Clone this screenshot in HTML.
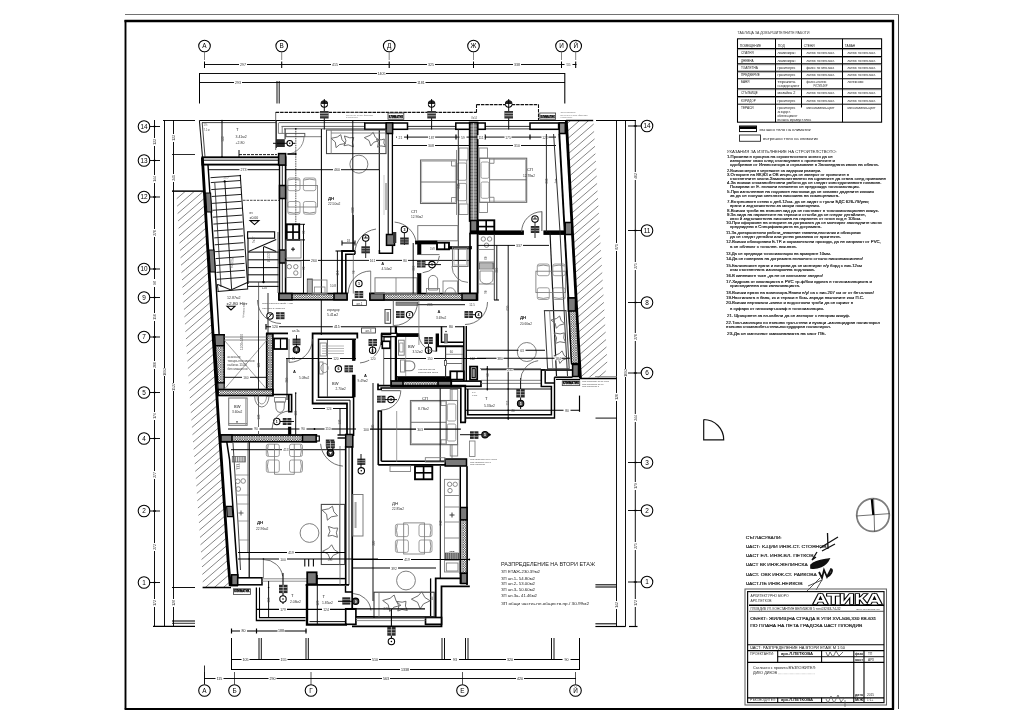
<!DOCTYPE html><html><head><meta charset="utf-8"><title>План</title><style>
html,body{margin:0;padding:0;background:#fff}
svg{display:block;will-change:transform}
text{font-family:"Liberation Sans",sans-serif}
</style></head><body>
<svg width="1024" height="724" viewBox="0 0 1024 724">
<defs><pattern id="xh" width="2.4" height="2.4" patternUnits="userSpaceOnUse"><rect width="2.4" height="2.4" fill="#fff"/><path d="M0 0L2.4 2.4M2.4 0L0 2.4" stroke="#000" stroke-width="0.45"/></pattern><pattern id="xd" width="1.6" height="1.6" patternUnits="userSpaceOnUse"><rect width="1.6" height="1.6" fill="#fff"/><path d="M0 0L1.6 1.6M1.6 0L0 1.6" stroke="#000" stroke-width="0.42"/></pattern><clipPath id="hc1"><path d="M176.2 191.3 L204.37 191.3 L209.6 280 L218.4 420 L221.4 460 L228.1 560 L230.3 587 L203 587 L201.58 560 L194.48 460 L191.32 420 L181.96 280 Z"/></clipPath><clipPath id="hc2"><path d="M566.3 120.8 L593.5 120.8 L607.5 365 L604 377.6 L580.41 377.6 Z"/></clipPath></defs>
<rect x="0" y="0" width="1024" height="724" fill="#fff"/>
<line x1="125" y1="14.5" x2="899" y2="14.5" stroke="#555" stroke-width="0.83"/>
<line x1="898.5" y1="15" x2="898.5" y2="709" stroke="#333" stroke-width="0.94"/>
<line x1="124.5" y1="21" x2="894" y2="21" stroke="#000" stroke-width="2.36"/>
<line x1="125.5" y1="20" x2="125.5" y2="709.5" stroke="#000" stroke-width="1.89"/>
<line x1="893" y1="20" x2="893" y2="709.5" stroke="#000" stroke-width="2.36"/>
<line x1="124.7" y1="709" x2="894" y2="709" stroke="#000" stroke-width="1.89"/>
<circle cx="204.5" cy="46" r="5.8" fill="#fff" stroke="#000" stroke-width="1.06"/>
<text x="204.5" y="48.2" font-size="6.4" text-anchor="middle">А</text>
<line x1="204.5" y1="51.5" x2="204.5" y2="60" stroke="#555" stroke-width="0.71"/>
<line x1="204.5" y1="61.5" x2="204.5" y2="68" stroke="#000" stroke-width="1.06"/>
<circle cx="281.7" cy="46" r="5.8" fill="#fff" stroke="#000" stroke-width="1.06"/>
<text x="281.7" y="48.2" font-size="6.4" text-anchor="middle">В</text>
<line x1="281.7" y1="51.5" x2="281.7" y2="60" stroke="#555" stroke-width="0.71"/>
<line x1="281.7" y1="61.5" x2="281.7" y2="68" stroke="#000" stroke-width="1.06"/>
<circle cx="389.2" cy="46" r="5.8" fill="#fff" stroke="#000" stroke-width="1.06"/>
<text x="389.2" y="48.2" font-size="6.4" text-anchor="middle">Д</text>
<line x1="389.2" y1="51.5" x2="389.2" y2="60" stroke="#555" stroke-width="0.71"/>
<line x1="389.2" y1="61.5" x2="389.2" y2="68" stroke="#000" stroke-width="1.06"/>
<circle cx="473.5" cy="46" r="5.8" fill="#fff" stroke="#000" stroke-width="1.06"/>
<text x="473.5" y="48.2" font-size="6.4" text-anchor="middle">Ж</text>
<line x1="473.5" y1="51.5" x2="473.5" y2="60" stroke="#555" stroke-width="0.71"/>
<line x1="473.5" y1="61.5" x2="473.5" y2="68" stroke="#000" stroke-width="1.06"/>
<circle cx="561.5" cy="46" r="5.8" fill="#fff" stroke="#000" stroke-width="1.06"/>
<text x="561.5" y="48.2" font-size="6.4" text-anchor="middle">И</text>
<line x1="561.5" y1="51.5" x2="561.5" y2="60" stroke="#555" stroke-width="0.71"/>
<line x1="561.5" y1="61.5" x2="561.5" y2="68" stroke="#000" stroke-width="1.06"/>
<circle cx="575.7" cy="46" r="5.8" fill="#fff" stroke="#000" stroke-width="1.06"/>
<text x="575.7" y="48.2" font-size="6.4" text-anchor="middle">Й</text>
<line x1="575.7" y1="51.5" x2="575.7" y2="60" stroke="#555" stroke-width="0.71"/>
<line x1="575.7" y1="61.5" x2="575.7" y2="68" stroke="#000" stroke-width="1.06"/>
<circle cx="204.5" cy="690.5" r="5.8" fill="#fff" stroke="#000" stroke-width="1.06"/>
<text x="204.5" y="692.7" font-size="6.4" text-anchor="middle">А</text>
<line x1="204.5" y1="672" x2="204.5" y2="685" stroke="#333" stroke-width="0.83"/>
<circle cx="234.5" cy="690.5" r="5.8" fill="#fff" stroke="#000" stroke-width="1.06"/>
<text x="234.5" y="692.7" font-size="6.4" text-anchor="middle">Б</text>
<line x1="234.5" y1="672" x2="234.5" y2="685" stroke="#333" stroke-width="0.83"/>
<circle cx="311" cy="690.5" r="5.8" fill="#fff" stroke="#000" stroke-width="1.06"/>
<text x="311" y="692.7" font-size="6.4" text-anchor="middle">Г</text>
<line x1="311" y1="672" x2="311" y2="685" stroke="#333" stroke-width="0.83"/>
<circle cx="462.5" cy="690.5" r="5.8" fill="#fff" stroke="#000" stroke-width="1.06"/>
<text x="462.5" y="692.7" font-size="6.4" text-anchor="middle">Е</text>
<line x1="462.5" y1="672" x2="462.5" y2="685" stroke="#333" stroke-width="0.83"/>
<circle cx="575.5" cy="690.5" r="5.8" fill="#fff" stroke="#000" stroke-width="1.06"/>
<text x="575.5" y="692.7" font-size="6.4" text-anchor="middle">Й</text>
<line x1="575.5" y1="672" x2="575.5" y2="685" stroke="#333" stroke-width="0.83"/>
<circle cx="144" cy="126.5" r="5.8" fill="#fff" stroke="#000" stroke-width="1.06"/>
<text x="144" y="128.7" font-size="6.4" text-anchor="middle">14</text>
<line x1="149.5" y1="126.5" x2="160" y2="126.5" stroke="#000" stroke-width="0.94"/>
<circle cx="144" cy="160.5" r="5.8" fill="#fff" stroke="#000" stroke-width="1.06"/>
<text x="144" y="162.7" font-size="6.4" text-anchor="middle">13</text>
<line x1="149.5" y1="160.5" x2="160" y2="160.5" stroke="#000" stroke-width="0.94"/>
<circle cx="144" cy="197" r="5.8" fill="#fff" stroke="#000" stroke-width="1.06"/>
<text x="144" y="199.2" font-size="6.4" text-anchor="middle">12</text>
<line x1="149.5" y1="197" x2="160" y2="197" stroke="#000" stroke-width="0.94"/>
<circle cx="144" cy="269" r="5.8" fill="#fff" stroke="#000" stroke-width="1.06"/>
<text x="144" y="271.2" font-size="6.4" text-anchor="middle">10</text>
<line x1="149.5" y1="269" x2="160" y2="269" stroke="#000" stroke-width="0.94"/>
<circle cx="144" cy="297.5" r="5.8" fill="#fff" stroke="#000" stroke-width="1.06"/>
<text x="144" y="299.7" font-size="6.4" text-anchor="middle">9</text>
<line x1="149.5" y1="297.5" x2="160" y2="297.5" stroke="#000" stroke-width="0.94"/>
<circle cx="144" cy="337" r="5.8" fill="#fff" stroke="#000" stroke-width="1.06"/>
<text x="144" y="339.2" font-size="6.4" text-anchor="middle">7</text>
<line x1="149.5" y1="337" x2="160" y2="337" stroke="#000" stroke-width="0.94"/>
<circle cx="144" cy="392.5" r="5.8" fill="#fff" stroke="#000" stroke-width="1.06"/>
<text x="144" y="394.7" font-size="6.4" text-anchor="middle">5</text>
<line x1="149.5" y1="392.5" x2="160" y2="392.5" stroke="#000" stroke-width="0.94"/>
<circle cx="144" cy="438.5" r="5.8" fill="#fff" stroke="#000" stroke-width="1.06"/>
<text x="144" y="440.7" font-size="6.4" text-anchor="middle">4</text>
<line x1="149.5" y1="438.5" x2="160" y2="438.5" stroke="#000" stroke-width="0.94"/>
<circle cx="144" cy="511" r="5.8" fill="#fff" stroke="#000" stroke-width="1.06"/>
<text x="144" y="513.2" font-size="6.4" text-anchor="middle">2</text>
<line x1="149.5" y1="511" x2="160" y2="511" stroke="#000" stroke-width="0.94"/>
<circle cx="144" cy="582.5" r="5.8" fill="#fff" stroke="#000" stroke-width="1.06"/>
<text x="144" y="584.7" font-size="6.4" text-anchor="middle">1</text>
<line x1="149.5" y1="582.5" x2="160" y2="582.5" stroke="#000" stroke-width="0.94"/>
<circle cx="647" cy="126" r="5.8" fill="#fff" stroke="#000" stroke-width="1.06"/>
<text x="647" y="128.2" font-size="6.4" text-anchor="middle">14</text>
<line x1="628" y1="126" x2="641.5" y2="126" stroke="#000" stroke-width="0.94"/>
<circle cx="647" cy="230.5" r="5.8" fill="#fff" stroke="#000" stroke-width="1.06"/>
<text x="647" y="232.7" font-size="6.4" text-anchor="middle">11</text>
<line x1="628" y1="230.5" x2="641.5" y2="230.5" stroke="#000" stroke-width="0.94"/>
<circle cx="647" cy="302.5" r="5.8" fill="#fff" stroke="#000" stroke-width="1.06"/>
<text x="647" y="304.7" font-size="6.4" text-anchor="middle">8</text>
<line x1="628" y1="302.5" x2="641.5" y2="302.5" stroke="#000" stroke-width="0.94"/>
<circle cx="647" cy="373" r="5.8" fill="#fff" stroke="#000" stroke-width="1.06"/>
<text x="647" y="375.2" font-size="6.4" text-anchor="middle">6</text>
<line x1="628" y1="373" x2="641.5" y2="373" stroke="#000" stroke-width="0.94"/>
<circle cx="647" cy="462.5" r="5.8" fill="#fff" stroke="#000" stroke-width="1.06"/>
<text x="647" y="464.7" font-size="6.4" text-anchor="middle">3</text>
<line x1="628" y1="462.5" x2="641.5" y2="462.5" stroke="#000" stroke-width="0.94"/>
<circle cx="647" cy="510.5" r="5.8" fill="#fff" stroke="#000" stroke-width="1.06"/>
<text x="647" y="512.7" font-size="6.4" text-anchor="middle">2</text>
<line x1="628" y1="510.5" x2="641.5" y2="510.5" stroke="#000" stroke-width="0.94"/>
<circle cx="647" cy="582" r="5.8" fill="#fff" stroke="#000" stroke-width="1.06"/>
<text x="647" y="584.2" font-size="6.4" text-anchor="middle">1</text>
<line x1="628" y1="582" x2="641.5" y2="582" stroke="#000" stroke-width="0.94"/>
<line x1="204" y1="64.5" x2="576.5" y2="64.5" stroke="#000" stroke-width="0.94"/>
<rect x="239" y="62.5" width="8" height="4" fill="#fff" stroke="none" stroke-width="0"/>
<text x="243" y="66" font-size="3.6" text-anchor="middle" fill="#333">297</text>
<rect x="331" y="62.5" width="8" height="4" fill="#fff" stroke="none" stroke-width="0"/>
<text x="335" y="66" font-size="3.6" text-anchor="middle" fill="#333">415</text>
<rect x="427" y="62.5" width="8" height="4" fill="#fff" stroke="none" stroke-width="0"/>
<text x="431" y="66" font-size="3.6" text-anchor="middle" fill="#333">325</text>
<rect x="513" y="62.5" width="8" height="4" fill="#fff" stroke="none" stroke-width="0"/>
<text x="517" y="66" font-size="3.6" text-anchor="middle" fill="#333">338</text>
<rect x="564.5" y="62.5" width="8" height="4" fill="#fff" stroke="none" stroke-width="0"/>
<text x="568.5" y="66" font-size="3.6" text-anchor="middle" fill="#333">55</text>
<line x1="199.5" y1="73.5" x2="565" y2="73.5" stroke="#000" stroke-width="0.94"/>
<line x1="199.5" y1="73" x2="199.5" y2="103.5" stroke="#000" stroke-width="1.06"/>
<line x1="564.8" y1="73" x2="564.8" y2="103.5" stroke="#000" stroke-width="1.06"/>
<rect x="377" y="71.5" width="9" height="4" fill="#fff" stroke="none" stroke-width="0"/>
<text x="381.5" y="75" font-size="3.6" text-anchor="middle" fill="#333">1405</text>
<line x1="199.5" y1="82.5" x2="565" y2="82.5" stroke="#000" stroke-width="0.94"/>
<rect x="234" y="80.5" width="8" height="4" fill="#fff" stroke="none" stroke-width="0"/>
<text x="238" y="84" font-size="3.6" text-anchor="middle" fill="#333">293</text>
<rect x="416.5" y="80.5" width="9" height="4" fill="#fff" stroke="none" stroke-width="0"/>
<text x="421" y="84" font-size="3.6" text-anchor="middle" fill="#333">1181</text>
<line x1="277" y1="81" x2="277" y2="103.5" stroke="#000" stroke-width="0.94"/>
<line x1="279.2" y1="81" x2="279.2" y2="103.5" stroke="#000" stroke-width="0.94"/>
<line x1="231" y1="631" x2="306.5" y2="631" stroke="#000" stroke-width="1.06"/>
<line x1="231.5" y1="628.5" x2="231.5" y2="633.5" stroke="#000" stroke-width="1.18"/>
<line x1="256.5" y1="628.5" x2="256.5" y2="633.5" stroke="#000" stroke-width="1.18"/>
<line x1="306" y1="628.5" x2="306" y2="633.5" stroke="#000" stroke-width="1.18"/>
<rect x="240" y="629" width="7" height="4" fill="#fff" stroke="none" stroke-width="0"/>
<text x="243.5" y="632.4" font-size="3.6" text-anchor="middle" fill="#222">80</text>
<rect x="277.5" y="629" width="7" height="4" fill="#fff" stroke="none" stroke-width="0"/>
<text x="281" y="632.4" font-size="3.6" text-anchor="middle" fill="#222">188</text>
<line x1="231.5" y1="638" x2="231.5" y2="669.5" stroke="#000" stroke-width="1.06"/>
<line x1="259" y1="638" x2="259" y2="660" stroke="#000" stroke-width="0.94"/>
<line x1="261.3" y1="638" x2="261.3" y2="660" stroke="#000" stroke-width="0.94"/>
<line x1="306" y1="638" x2="306" y2="660" stroke="#000" stroke-width="0.94"/>
<line x1="308.3" y1="638" x2="308.3" y2="660" stroke="#000" stroke-width="0.94"/>
<line x1="442" y1="638" x2="442" y2="660" stroke="#000" stroke-width="0.94"/>
<line x1="444.5" y1="638" x2="444.5" y2="660" stroke="#000" stroke-width="0.94"/>
<line x1="465.5" y1="638" x2="465.5" y2="660" stroke="#000" stroke-width="0.94"/>
<line x1="468" y1="638" x2="468" y2="660" stroke="#000" stroke-width="0.94"/>
<line x1="551.5" y1="638" x2="551.5" y2="660" stroke="#000" stroke-width="0.94"/>
<line x1="554" y1="638" x2="554" y2="660" stroke="#000" stroke-width="0.94"/>
<line x1="579.5" y1="638" x2="579.5" y2="669.5" stroke="#000" stroke-width="1.06"/>
<line x1="231" y1="659.5" x2="580" y2="659.5" stroke="#000" stroke-width="1.06"/>
<rect x="241.5" y="657.5" width="8" height="4" fill="#fff" stroke="none" stroke-width="0"/>
<text x="245.5" y="661" font-size="3.6" text-anchor="middle" fill="#222">105</text>
<rect x="279.5" y="657.5" width="8" height="4" fill="#fff" stroke="none" stroke-width="0"/>
<text x="283.5" y="661" font-size="3.6" text-anchor="middle" fill="#222">155</text>
<rect x="371" y="657.5" width="8" height="4" fill="#fff" stroke="none" stroke-width="0"/>
<text x="375" y="661" font-size="3.6" text-anchor="middle" fill="#222">510</text>
<rect x="451" y="657.5" width="8" height="4" fill="#fff" stroke="none" stroke-width="0"/>
<text x="455" y="661" font-size="3.6" text-anchor="middle" fill="#222">93</text>
<rect x="506" y="657.5" width="8" height="4" fill="#fff" stroke="none" stroke-width="0"/>
<text x="510" y="661" font-size="3.6" text-anchor="middle" fill="#222">320</text>
<rect x="562.5" y="657.5" width="8" height="4" fill="#fff" stroke="none" stroke-width="0"/>
<text x="566.5" y="661" font-size="3.6" text-anchor="middle" fill="#222">90</text>
<line x1="231" y1="669.5" x2="580" y2="669.5" stroke="#000" stroke-width="1.06"/>
<rect x="400" y="667.5" width="10" height="4" fill="#fff" stroke="none" stroke-width="0"/>
<text x="405" y="671" font-size="3.6" text-anchor="middle" fill="#222">1338</text>
<line x1="204" y1="678.5" x2="576" y2="678.5" stroke="#000" stroke-width="0.94"/>
<line x1="204.5" y1="665.5" x2="204.5" y2="684" stroke="#000" stroke-width="0.83"/>
<rect x="215.5" y="676.5" width="8" height="4" fill="#fff" stroke="none" stroke-width="0"/>
<text x="219.5" y="680" font-size="3.6" text-anchor="middle" fill="#222">115</text>
<rect x="268.5" y="676.5" width="8" height="4" fill="#fff" stroke="none" stroke-width="0"/>
<text x="272.5" y="680" font-size="3.6" text-anchor="middle" fill="#222">290</text>
<rect x="382" y="676.5" width="8" height="4" fill="#fff" stroke="none" stroke-width="0"/>
<text x="386" y="680" font-size="3.6" text-anchor="middle" fill="#222">563</text>
<rect x="516" y="676.5" width="8" height="4" fill="#fff" stroke="none" stroke-width="0"/>
<text x="520" y="680" font-size="3.6" text-anchor="middle" fill="#222">420</text>
<line x1="154.5" y1="120" x2="154.5" y2="626.5" stroke="#000" stroke-width="0.94"/>
<line x1="164.5" y1="120" x2="164.5" y2="626.5" stroke="#000" stroke-width="0.94"/>
<line x1="173.5" y1="120" x2="173.5" y2="626.5" stroke="#000" stroke-width="0.94"/>
<line x1="163" y1="120.5" x2="195" y2="120.5" stroke="#000" stroke-width="0.94"/>
<line x1="172" y1="154.5" x2="195" y2="154.5" stroke="#000" stroke-width="0.83"/>
<line x1="172" y1="191" x2="203.5" y2="191" stroke="#000" stroke-width="0.94"/>
<line x1="172" y1="587.5" x2="195" y2="587.5" stroke="#000" stroke-width="0.94"/>
<line x1="172" y1="621" x2="195" y2="621" stroke="#000" stroke-width="1.06"/>
<line x1="172" y1="623.3" x2="195" y2="623.3" stroke="#000" stroke-width="0.83"/>
<line x1="153" y1="626.3" x2="195" y2="626.3" stroke="#000" stroke-width="1.18"/>
<line x1="153" y1="126.5" x2="156" y2="126.5" stroke="#000" stroke-width="1.18"/>
<line x1="153" y1="160.5" x2="156" y2="160.5" stroke="#000" stroke-width="1.18"/>
<line x1="153" y1="197" x2="156" y2="197" stroke="#000" stroke-width="1.18"/>
<line x1="153" y1="269" x2="156" y2="269" stroke="#000" stroke-width="1.18"/>
<line x1="153" y1="297.5" x2="156" y2="297.5" stroke="#000" stroke-width="1.18"/>
<line x1="153" y1="337" x2="156" y2="337" stroke="#000" stroke-width="1.18"/>
<line x1="153" y1="392.5" x2="156" y2="392.5" stroke="#000" stroke-width="1.18"/>
<line x1="153" y1="438.5" x2="156" y2="438.5" stroke="#000" stroke-width="1.18"/>
<line x1="153" y1="511" x2="156" y2="511" stroke="#000" stroke-width="1.18"/>
<line x1="153" y1="582.5" x2="156" y2="582.5" stroke="#000" stroke-width="1.18"/>
<rect x="152.8" y="138" width="4" height="8" fill="#fff" stroke="none" stroke-width="0"/>
<text x="156.2" y="142" font-size="3.4" text-anchor="middle" fill="#333" transform="rotate(-90 156.2 142)">133</text>
<rect x="152.8" y="175" width="4" height="8" fill="#fff" stroke="none" stroke-width="0"/>
<text x="156.2" y="179" font-size="3.4" text-anchor="middle" fill="#333" transform="rotate(-90 156.2 179)">144</text>
<rect x="152.8" y="229" width="4" height="8" fill="#fff" stroke="none" stroke-width="0"/>
<text x="156.2" y="233" font-size="3.4" text-anchor="middle" fill="#333" transform="rotate(-90 156.2 233)">270</text>
<rect x="152.8" y="279" width="4" height="8" fill="#fff" stroke="none" stroke-width="0"/>
<text x="156.2" y="283" font-size="3.4" text-anchor="middle" fill="#333" transform="rotate(-90 156.2 283)">98</text>
<rect x="152.8" y="313" width="4" height="8" fill="#fff" stroke="none" stroke-width="0"/>
<text x="156.2" y="317" font-size="3.4" text-anchor="middle" fill="#333" transform="rotate(-90 156.2 317)">150</text>
<rect x="152.8" y="361" width="4" height="8" fill="#fff" stroke="none" stroke-width="0"/>
<text x="156.2" y="365" font-size="3.4" text-anchor="middle" fill="#333" transform="rotate(-90 156.2 365)">200</text>
<rect x="152.8" y="412" width="4" height="8" fill="#fff" stroke="none" stroke-width="0"/>
<text x="156.2" y="416" font-size="3.4" text-anchor="middle" fill="#333" transform="rotate(-90 156.2 416)">176</text>
<rect x="152.8" y="471" width="4" height="8" fill="#fff" stroke="none" stroke-width="0"/>
<text x="156.2" y="475" font-size="3.4" text-anchor="middle" fill="#333" transform="rotate(-90 156.2 475)">277</text>
<rect x="152.8" y="543" width="4" height="8" fill="#fff" stroke="none" stroke-width="0"/>
<text x="156.2" y="547" font-size="3.4" text-anchor="middle" fill="#333" transform="rotate(-90 156.2 547)">272</text>
<rect x="152.8" y="599" width="4" height="8" fill="#fff" stroke="none" stroke-width="0"/>
<text x="156.2" y="603" font-size="3.4" text-anchor="middle" fill="#333" transform="rotate(-90 156.2 603)">172</text>
<rect x="171.8" y="134" width="4" height="8" fill="#fff" stroke="none" stroke-width="0"/>
<text x="175.2" y="138" font-size="3.4" text-anchor="middle" fill="#333" transform="rotate(-90 175.2 138)">133</text>
<rect x="171.8" y="174" width="4" height="8" fill="#fff" stroke="none" stroke-width="0"/>
<text x="175.2" y="178" font-size="3.4" text-anchor="middle" fill="#333" transform="rotate(-90 175.2 178)">341</text>
<rect x="162.8" y="368" width="4" height="8" fill="#fff" stroke="none" stroke-width="0"/>
<text x="166.2" y="372" font-size="3.4" text-anchor="middle" fill="#333" transform="rotate(-90 166.2 372)">1093</text>
<rect x="171.8" y="383" width="4" height="8" fill="#fff" stroke="none" stroke-width="0"/>
<text x="175.2" y="387" font-size="3.4" text-anchor="middle" fill="#333" transform="rotate(-90 175.2 387)">1527</text>
<rect x="171.8" y="599" width="4" height="8" fill="#fff" stroke="none" stroke-width="0"/>
<text x="175.2" y="603" font-size="3.4" text-anchor="middle" fill="#333" transform="rotate(-90 175.2 603)">128</text>
<line x1="596" y1="120.5" x2="636" y2="120.5" stroke="#000" stroke-width="1.06"/>
<line x1="616.5" y1="120" x2="616.5" y2="626.7" stroke="#000" stroke-width="0.94"/>
<line x1="625.5" y1="120" x2="625.5" y2="626.7" stroke="#000" stroke-width="0.94"/>
<line x1="635.3" y1="120" x2="635.3" y2="626.7" stroke="#000" stroke-width="0.94"/>
<line x1="595.4" y1="584.8" x2="616.5" y2="584.8" stroke="#000" stroke-width="1.06"/>
<line x1="595.4" y1="587" x2="616.5" y2="587" stroke="#000" stroke-width="1.06"/>
<line x1="595.4" y1="623.8" x2="616.5" y2="623.8" stroke="#000" stroke-width="1.06"/>
<line x1="595.4" y1="626.5" x2="625.5" y2="626.5" stroke="#000" stroke-width="1.18"/>
<line x1="629" y1="626.5" x2="637.5" y2="626.5" stroke="#000" stroke-width="1.18"/>
<line x1="633.8" y1="126" x2="636.8" y2="126" stroke="#000" stroke-width="1.18"/>
<line x1="633.8" y1="230.5" x2="636.8" y2="230.5" stroke="#000" stroke-width="1.18"/>
<line x1="633.8" y1="302.5" x2="636.8" y2="302.5" stroke="#000" stroke-width="1.18"/>
<line x1="633.8" y1="373" x2="636.8" y2="373" stroke="#000" stroke-width="1.18"/>
<line x1="633.8" y1="462.5" x2="636.8" y2="462.5" stroke="#000" stroke-width="1.18"/>
<line x1="633.8" y1="510.5" x2="636.8" y2="510.5" stroke="#000" stroke-width="1.18"/>
<line x1="633.8" y1="582" x2="636.8" y2="582" stroke="#000" stroke-width="1.18"/>
<rect x="614.3" y="243" width="4.4" height="8" fill="#fff" stroke="none" stroke-width="0"/>
<text x="617.7" y="247" font-size="3.4" text-anchor="middle" fill="#333" transform="rotate(-90 617.7 247)">871</text>
<rect x="633.1" y="172" width="4.4" height="8" fill="#fff" stroke="none" stroke-width="0"/>
<text x="636.5" y="176" font-size="3.4" text-anchor="middle" fill="#333" transform="rotate(-90 636.5 176)">402</text>
<rect x="633.1" y="262" width="4.4" height="8" fill="#fff" stroke="none" stroke-width="0"/>
<text x="636.5" y="266" font-size="3.4" text-anchor="middle" fill="#333" transform="rotate(-90 636.5 266)">275</text>
<rect x="633.1" y="333" width="4.4" height="8" fill="#fff" stroke="none" stroke-width="0"/>
<text x="636.5" y="337" font-size="3.4" text-anchor="middle" fill="#333" transform="rotate(-90 636.5 337)">270</text>
<rect x="633.1" y="414" width="4.4" height="8" fill="#fff" stroke="none" stroke-width="0"/>
<text x="636.5" y="418" font-size="3.4" text-anchor="middle" fill="#333" transform="rotate(-90 636.5 418)">344</text>
<rect x="633.1" y="482" width="4.4" height="8" fill="#fff" stroke="none" stroke-width="0"/>
<text x="636.5" y="486" font-size="3.4" text-anchor="middle" fill="#333" transform="rotate(-90 636.5 486)">179</text>
<rect x="633.1" y="542" width="4.4" height="8" fill="#fff" stroke="none" stroke-width="0"/>
<text x="636.5" y="546" font-size="3.4" text-anchor="middle" fill="#333" transform="rotate(-90 636.5 546)">275</text>
<rect x="633.1" y="599" width="4.4" height="8" fill="#fff" stroke="none" stroke-width="0"/>
<text x="636.5" y="603" font-size="3.4" text-anchor="middle" fill="#333" transform="rotate(-90 636.5 603)">172</text>
<rect x="614.3" y="393" width="4.4" height="8" fill="#fff" stroke="none" stroke-width="0"/>
<text x="617.7" y="397" font-size="3.4" text-anchor="middle" fill="#333" transform="rotate(-90 617.7 397)">120</text>
<rect x="614.3" y="601" width="4.4" height="8" fill="#fff" stroke="none" stroke-width="0"/>
<text x="617.7" y="605" font-size="3.4" text-anchor="middle" fill="#333" transform="rotate(-90 617.7 605)">142</text>
<rect x="623.3" y="369" width="4.4" height="8" fill="#fff" stroke="none" stroke-width="0"/>
<text x="626.7" y="373" font-size="3.4" text-anchor="middle" fill="#333" transform="rotate(-90 626.7 373)">1093</text>
<g clip-path="url(#hc1)" stroke="#707070" stroke-width="0.85"><line x1="176.2" y1="136.8" x2="230.3" y2="90.1"/><line x1="176.2" y1="144.6" x2="230.3" y2="97.9"/><line x1="176.2" y1="152.4" x2="230.3" y2="105.7"/><line x1="176.2" y1="160.2" x2="230.3" y2="113.5"/><line x1="176.2" y1="168" x2="230.3" y2="121.3"/><line x1="176.2" y1="175.8" x2="230.3" y2="129.1"/><line x1="176.2" y1="183.6" x2="230.3" y2="136.9"/><line x1="176.2" y1="191.4" x2="230.3" y2="144.7"/><line x1="176.2" y1="199.2" x2="230.3" y2="152.5"/><line x1="176.2" y1="207" x2="230.3" y2="160.3"/><line x1="176.2" y1="214.8" x2="230.3" y2="168.1"/><line x1="176.2" y1="222.6" x2="230.3" y2="175.9"/><line x1="176.2" y1="230.4" x2="230.3" y2="183.7"/><line x1="176.2" y1="238.2" x2="230.3" y2="191.5"/><line x1="176.2" y1="246" x2="230.3" y2="199.3"/><line x1="176.2" y1="253.8" x2="230.3" y2="207.1"/><line x1="176.2" y1="261.6" x2="230.3" y2="214.9"/><line x1="176.2" y1="269.4" x2="230.3" y2="222.7"/><line x1="176.2" y1="277.2" x2="230.3" y2="230.5"/><line x1="176.2" y1="285" x2="230.3" y2="238.3"/><line x1="176.2" y1="292.8" x2="230.3" y2="246.1"/><line x1="176.2" y1="300.6" x2="230.3" y2="253.9"/><line x1="176.2" y1="308.4" x2="230.3" y2="261.7"/><line x1="176.2" y1="316.2" x2="230.3" y2="269.5"/><line x1="176.2" y1="324" x2="230.3" y2="277.3"/><line x1="176.2" y1="331.8" x2="230.3" y2="285.1"/><line x1="176.2" y1="339.6" x2="230.3" y2="292.9"/><line x1="176.2" y1="347.4" x2="230.3" y2="300.7"/><line x1="176.2" y1="355.2" x2="230.3" y2="308.5"/><line x1="176.2" y1="363" x2="230.3" y2="316.3"/><line x1="176.2" y1="370.8" x2="230.3" y2="324.1"/><line x1="176.2" y1="378.6" x2="230.3" y2="331.9"/><line x1="176.2" y1="386.4" x2="230.3" y2="339.7"/><line x1="176.2" y1="394.2" x2="230.3" y2="347.5"/><line x1="176.2" y1="402" x2="230.3" y2="355.3"/><line x1="176.2" y1="409.8" x2="230.3" y2="363.1"/><line x1="176.2" y1="417.6" x2="230.3" y2="370.9"/><line x1="176.2" y1="425.4" x2="230.3" y2="378.7"/><line x1="176.2" y1="433.2" x2="230.3" y2="386.5"/><line x1="176.2" y1="441" x2="230.3" y2="394.3"/><line x1="176.2" y1="448.8" x2="230.3" y2="402.1"/><line x1="176.2" y1="456.6" x2="230.3" y2="409.9"/><line x1="176.2" y1="464.4" x2="230.3" y2="417.7"/><line x1="176.2" y1="472.2" x2="230.3" y2="425.5"/><line x1="176.2" y1="480" x2="230.3" y2="433.3"/><line x1="176.2" y1="487.8" x2="230.3" y2="441.1"/><line x1="176.2" y1="495.6" x2="230.3" y2="448.9"/><line x1="176.2" y1="503.4" x2="230.3" y2="456.7"/><line x1="176.2" y1="511.2" x2="230.3" y2="464.5"/><line x1="176.2" y1="519" x2="230.3" y2="472.3"/><line x1="176.2" y1="526.8" x2="230.3" y2="480.1"/><line x1="176.2" y1="534.6" x2="230.3" y2="487.9"/><line x1="176.2" y1="542.4" x2="230.3" y2="495.7"/><line x1="176.2" y1="550.2" x2="230.3" y2="503.5"/><line x1="176.2" y1="558" x2="230.3" y2="511.3"/><line x1="176.2" y1="565.8" x2="230.3" y2="519.1"/><line x1="176.2" y1="573.6" x2="230.3" y2="526.9"/><line x1="176.2" y1="581.4" x2="230.3" y2="534.7"/><line x1="176.2" y1="589.2" x2="230.3" y2="542.5"/><line x1="176.2" y1="597" x2="230.3" y2="550.3"/><line x1="176.2" y1="604.8" x2="230.3" y2="558.1"/><line x1="176.2" y1="612.6" x2="230.3" y2="565.9"/><line x1="176.2" y1="620.4" x2="230.3" y2="573.7"/><line x1="176.2" y1="628.2" x2="230.3" y2="581.5"/><line x1="176.2" y1="636" x2="230.3" y2="589.3"/></g>
<line x1="172" y1="191.2" x2="204.5" y2="191.2" stroke="#000" stroke-width="1.06"/>
<line x1="202.6" y1="587.5" x2="231" y2="587.5" stroke="#000" stroke-width="1.53"/>
<g clip-path="url(#hc2)" stroke="#707070" stroke-width="0.85"><line x1="566.3" y1="77.44" x2="607.5" y2="41.87"/><line x1="566.3" y1="85.24" x2="607.5" y2="49.67"/><line x1="566.3" y1="93.04" x2="607.5" y2="57.47"/><line x1="566.3" y1="100.84" x2="607.5" y2="65.27"/><line x1="566.3" y1="108.64" x2="607.5" y2="73.07"/><line x1="566.3" y1="116.44" x2="607.5" y2="80.87"/><line x1="566.3" y1="124.24" x2="607.5" y2="88.67"/><line x1="566.3" y1="132.04" x2="607.5" y2="96.47"/><line x1="566.3" y1="139.84" x2="607.5" y2="104.27"/><line x1="566.3" y1="147.64" x2="607.5" y2="112.07"/><line x1="566.3" y1="155.44" x2="607.5" y2="119.87"/><line x1="566.3" y1="163.24" x2="607.5" y2="127.67"/><line x1="566.3" y1="171.04" x2="607.5" y2="135.47"/><line x1="566.3" y1="178.84" x2="607.5" y2="143.27"/><line x1="566.3" y1="186.64" x2="607.5" y2="151.07"/><line x1="566.3" y1="194.44" x2="607.5" y2="158.87"/><line x1="566.3" y1="202.24" x2="607.5" y2="166.67"/><line x1="566.3" y1="210.04" x2="607.5" y2="174.47"/><line x1="566.3" y1="217.84" x2="607.5" y2="182.27"/><line x1="566.3" y1="225.64" x2="607.5" y2="190.07"/><line x1="566.3" y1="233.44" x2="607.5" y2="197.87"/><line x1="566.3" y1="241.24" x2="607.5" y2="205.67"/><line x1="566.3" y1="249.04" x2="607.5" y2="213.47"/><line x1="566.3" y1="256.84" x2="607.5" y2="221.27"/><line x1="566.3" y1="264.64" x2="607.5" y2="229.07"/><line x1="566.3" y1="272.44" x2="607.5" y2="236.87"/><line x1="566.3" y1="280.24" x2="607.5" y2="244.67"/><line x1="566.3" y1="288.04" x2="607.5" y2="252.47"/><line x1="566.3" y1="295.84" x2="607.5" y2="260.27"/><line x1="566.3" y1="303.64" x2="607.5" y2="268.07"/><line x1="566.3" y1="311.44" x2="607.5" y2="275.87"/><line x1="566.3" y1="319.24" x2="607.5" y2="283.67"/><line x1="566.3" y1="327.04" x2="607.5" y2="291.47"/><line x1="566.3" y1="334.84" x2="607.5" y2="299.27"/><line x1="566.3" y1="342.64" x2="607.5" y2="307.07"/><line x1="566.3" y1="350.44" x2="607.5" y2="314.87"/><line x1="566.3" y1="358.24" x2="607.5" y2="322.67"/><line x1="566.3" y1="366.04" x2="607.5" y2="330.47"/><line x1="566.3" y1="373.84" x2="607.5" y2="338.27"/><line x1="566.3" y1="381.64" x2="607.5" y2="346.07"/><line x1="566.3" y1="389.44" x2="607.5" y2="353.87"/><line x1="566.3" y1="397.24" x2="607.5" y2="361.67"/><line x1="566.3" y1="405.04" x2="607.5" y2="369.47"/><line x1="566.3" y1="412.84" x2="607.5" y2="377.27"/><line x1="566.3" y1="420.64" x2="607.5" y2="385.07"/></g>
<line x1="566" y1="120.5" x2="593.2" y2="120.5" stroke="#000" stroke-width="1.42"/>
<line x1="580" y1="378.5" x2="617" y2="378.5" stroke="#000" stroke-width="1.42"/>
<line x1="595" y1="376.6" x2="617" y2="376.6" stroke="#666" stroke-width="0.71"/>
<line x1="199.4" y1="120.5" x2="566" y2="120.5" stroke="#000" stroke-width="1.18"/>
<line x1="275.7" y1="112.4" x2="476.5" y2="112.4" stroke="#111" stroke-width="1.06" stroke-dasharray="3.5 0.9"/>
<line x1="476.5" y1="104.6" x2="476.5" y2="112.4" stroke="#111" stroke-width="1.06" stroke-dasharray="3.5 0.9"/>
<line x1="476.5" y1="104.6" x2="538.5" y2="104.6" stroke="#111" stroke-width="1.06" stroke-dasharray="3.5 0.9"/>
<line x1="538.5" y1="104.6" x2="538.5" y2="120" stroke="#111" stroke-width="1.06" stroke-dasharray="3.5 0.9"/>
<line x1="275.7" y1="112" x2="275.7" y2="150" stroke="#333" stroke-width="0.71"/>
<line x1="279" y1="122.6" x2="365" y2="122.6" stroke="#444" stroke-width="0.83"/>
<line x1="281.5" y1="126.4" x2="365" y2="126.4" stroke="#444" stroke-width="0.83"/>
<line x1="284" y1="128.8" x2="365" y2="128.8" stroke="#444" stroke-width="0.83"/>
<line x1="407.5" y1="126.4" x2="456" y2="126.4" stroke="#222" stroke-width="0.94"/>
<line x1="485" y1="126.4" x2="530" y2="126.4" stroke="#222" stroke-width="0.94"/>
<line x1="407.5" y1="128.9" x2="456" y2="128.9" stroke="#666" stroke-width="1.18"/>
<line x1="485" y1="128.9" x2="530" y2="128.9" stroke="#666" stroke-width="1.18"/>
<rect x="364.8" y="123" width="21.5" height="6.3" fill="#fff" stroke="#000" stroke-width="1.53"/>
<rect x="392.5" y="123" width="15" height="6.3" fill="#fff" stroke="#000" stroke-width="1.53"/>
<rect x="455.8" y="123" width="14.2" height="6.3" fill="#fff" stroke="#000" stroke-width="1.53"/>
<rect x="477.5" y="123" width="7.7" height="6.3" fill="#fff" stroke="#000" stroke-width="1.53"/>
<rect x="530" y="123" width="28.6" height="6.3" fill="#fff" stroke="#000" stroke-width="1.53"/>
<rect x="386.3" y="122.8" width="6.3" height="10.7" fill="url(#xd)" stroke="#000" stroke-width="1.53"/>
<rect x="559.3" y="122.8" width="6" height="10.7" fill="#8c8c8c" stroke="#000" stroke-width="1.53"/>
<rect x="388" y="113" width="15.8" height="6.3" fill="#fff" stroke="#444" stroke-width="0.83"/>
<text x="388.8" y="118" font-size="3" font-weight="bold" textLength="14.2" lengthAdjust="spacingAndGlyphs" stroke="#000" stroke-width="0.25">КЛИМАТИК</text>
<rect x="539.8" y="113" width="15.8" height="6.3" fill="#fff" stroke="#444" stroke-width="0.83"/>
<text x="540.6" y="118" font-size="3" font-weight="bold" textLength="14.2" lengthAdjust="spacingAndGlyphs" stroke="#000" stroke-width="0.25">КЛИМАТИК</text>
<text x="346" y="113.3" font-size="2.3" textLength="15" lengthAdjust="spacingAndGlyphs" fill="#777">Отв.климатик</text>
<text x="346" y="115.7" font-size="2.3" textLength="27" lengthAdjust="spacingAndGlyphs" fill="#777">външно тяло ф50мм</text>
<text x="346" y="118" font-size="2.3" textLength="12" lengthAdjust="spacingAndGlyphs" fill="#777">в стоманобет.</text>
<text x="560.5" y="113.3" font-size="2.3" textLength="15" lengthAdjust="spacingAndGlyphs" fill="#777">Отв.климатик</text>
<text x="560.5" y="115.7" font-size="2.3" textLength="27" lengthAdjust="spacingAndGlyphs" fill="#777">външно тяло ф50мм</text>
<text x="560.5" y="118" font-size="2.3" textLength="12" lengthAdjust="spacingAndGlyphs" fill="#777">в стоманобет.</text>
<circle cx="324.3" cy="104" r="3.2" fill="#fff" stroke="#000" stroke-width="1.06"/>
<path d="M321.1 104 A3.2 3.2 0 0 1 327.5 104 Z" fill="#222" stroke="none" stroke-width="0"/>
<line x1="321.3" y1="104.6" x2="327.3" y2="104.6" stroke="#fff" stroke-width="0.83"/>
<line x1="324.3" y1="99" x2="324.3" y2="129.5" stroke="#000" stroke-width="0.94"/>
<rect x="320" y="111" width="8.6" height="7.5" fill="#333" stroke="none" stroke-width="0"/>
<line x1="320" y1="113.3" x2="328.6" y2="113.3" stroke="#ddd" stroke-width="0.71"/>
<line x1="320" y1="115.8" x2="328.6" y2="115.8" stroke="#ddd" stroke-width="0.71"/>
<circle cx="431.6" cy="104" r="3.2" fill="#fff" stroke="#000" stroke-width="1.06"/>
<path d="M428.4 104 A3.2 3.2 0 0 1 434.8 104 Z" fill="#222" stroke="none" stroke-width="0"/>
<line x1="428.6" y1="104.6" x2="434.6" y2="104.6" stroke="#fff" stroke-width="0.83"/>
<line x1="431.6" y1="99" x2="431.6" y2="129.5" stroke="#000" stroke-width="0.94"/>
<rect x="427.3" y="111" width="8.6" height="7.5" fill="#333" stroke="none" stroke-width="0"/>
<line x1="427.3" y1="113.3" x2="435.9" y2="113.3" stroke="#ddd" stroke-width="0.71"/>
<line x1="427.3" y1="115.8" x2="435.9" y2="115.8" stroke="#ddd" stroke-width="0.71"/>
<circle cx="508.7" cy="104" r="3.2" fill="#fff" stroke="#000" stroke-width="1.06"/>
<path d="M505.5 104 A3.2 3.2 0 0 1 511.9 104 Z" fill="#222" stroke="none" stroke-width="0"/>
<line x1="505.7" y1="104.6" x2="511.7" y2="104.6" stroke="#fff" stroke-width="0.83"/>
<line x1="508.7" y1="99" x2="508.7" y2="129.5" stroke="#000" stroke-width="0.94"/>
<rect x="504.4" y="111" width="8.6" height="7.5" fill="#333" stroke="none" stroke-width="0"/>
<line x1="504.4" y1="113.3" x2="513" y2="113.3" stroke="#ddd" stroke-width="0.71"/>
<line x1="504.4" y1="115.8" x2="513" y2="115.8" stroke="#ddd" stroke-width="0.71"/>
<rect x="469.7" y="122.5" width="7.9" height="98.5" fill="#777" stroke="#000" stroke-width="1.77"/>
<line x1="470.5" y1="126" x2="476.8" y2="126" stroke="#ddd" stroke-width="0.59"/>
<line x1="470.5" y1="129" x2="476.8" y2="129" stroke="#ddd" stroke-width="0.59"/>
<line x1="470.5" y1="132" x2="476.8" y2="132" stroke="#ddd" stroke-width="0.59"/>
<line x1="470.5" y1="135" x2="476.8" y2="135" stroke="#ddd" stroke-width="0.59"/>
<line x1="470.5" y1="138" x2="476.8" y2="138" stroke="#ddd" stroke-width="0.59"/>
<line x1="470.5" y1="141" x2="476.8" y2="141" stroke="#ddd" stroke-width="0.59"/>
<line x1="470.5" y1="144" x2="476.8" y2="144" stroke="#ddd" stroke-width="0.59"/>
<line x1="470.5" y1="147" x2="476.8" y2="147" stroke="#ddd" stroke-width="0.59"/>
<line x1="470.5" y1="150" x2="476.8" y2="150" stroke="#ddd" stroke-width="0.59"/>
<line x1="470.5" y1="153" x2="476.8" y2="153" stroke="#ddd" stroke-width="0.59"/>
<line x1="470.5" y1="156" x2="476.8" y2="156" stroke="#ddd" stroke-width="0.59"/>
<line x1="470.5" y1="159" x2="476.8" y2="159" stroke="#ddd" stroke-width="0.59"/>
<line x1="470.5" y1="162" x2="476.8" y2="162" stroke="#ddd" stroke-width="0.59"/>
<line x1="470.5" y1="165" x2="476.8" y2="165" stroke="#ddd" stroke-width="0.59"/>
<line x1="470.5" y1="168" x2="476.8" y2="168" stroke="#ddd" stroke-width="0.59"/>
<line x1="470.5" y1="171" x2="476.8" y2="171" stroke="#ddd" stroke-width="0.59"/>
<line x1="470.5" y1="174" x2="476.8" y2="174" stroke="#ddd" stroke-width="0.59"/>
<line x1="470.5" y1="177" x2="476.8" y2="177" stroke="#ddd" stroke-width="0.59"/>
<line x1="470.5" y1="180" x2="476.8" y2="180" stroke="#ddd" stroke-width="0.59"/>
<line x1="470.5" y1="183" x2="476.8" y2="183" stroke="#ddd" stroke-width="0.59"/>
<line x1="470.5" y1="186" x2="476.8" y2="186" stroke="#ddd" stroke-width="0.59"/>
<line x1="470.5" y1="189" x2="476.8" y2="189" stroke="#ddd" stroke-width="0.59"/>
<line x1="470.5" y1="192" x2="476.8" y2="192" stroke="#ddd" stroke-width="0.59"/>
<line x1="470.5" y1="195" x2="476.8" y2="195" stroke="#ddd" stroke-width="0.59"/>
<line x1="470.5" y1="198" x2="476.8" y2="198" stroke="#ddd" stroke-width="0.59"/>
<line x1="470.5" y1="201" x2="476.8" y2="201" stroke="#ddd" stroke-width="0.59"/>
<line x1="470.5" y1="204" x2="476.8" y2="204" stroke="#ddd" stroke-width="0.59"/>
<line x1="470.5" y1="207" x2="476.8" y2="207" stroke="#ddd" stroke-width="0.59"/>
<line x1="470.5" y1="210" x2="476.8" y2="210" stroke="#ddd" stroke-width="0.59"/>
<line x1="470.5" y1="213" x2="476.8" y2="213" stroke="#ddd" stroke-width="0.59"/>
<line x1="470.5" y1="216" x2="476.8" y2="216" stroke="#ddd" stroke-width="0.59"/>
<line x1="470.5" y1="219" x2="476.8" y2="219" stroke="#ddd" stroke-width="0.59"/>
<line x1="473.6" y1="123" x2="473.6" y2="221" stroke="#ddd" stroke-width="0.71"/>
<rect x="470.5" y="220.5" width="6.5" height="13" fill="url(#xd)" stroke="#000" stroke-width="1.53"/>
<rect x="478" y="220.3" width="16.3" height="12.7" fill="#fff" stroke="#000" stroke-width="1.89"/>
<line x1="486.2" y1="220.3" x2="486.2" y2="233" stroke="#000" stroke-width="1.65"/>
<line x1="478" y1="226.6" x2="494.3" y2="226.6" stroke="#000" stroke-width="1.65"/>
<rect x="470.5" y="231" width="52.8" height="3.3" fill="#000" stroke="#000" stroke-width="1.18"/>
<rect x="544" y="231" width="27" height="3.3" fill="#000" stroke="#000" stroke-width="1.18"/>
<rect x="470" y="233.5" width="7.5" height="66.5" fill="#fff" stroke="#000" stroke-width="1.65"/>
<path d="M566.3 120.5 L580.44 378.5" fill="none" stroke="#000" stroke-width="2.83"/>
<path d="M559.3 134 L572 364.5" fill="none" stroke="#000" stroke-width="1.89"/>
<rect x="565.2" y="222.5" width="6.6" height="12" fill="url(#xd)" stroke="#000" stroke-width="1.53"/>
<path d="M568.3 298 L575.6 298 L578.8 363.5 L571.5 363.5 Z" fill="url(#xh)" stroke="#000" stroke-width="1.3"/>
<rect x="568.3" y="298" width="7.2" height="13" fill="url(#xd)" stroke="#000" stroke-width="1.53"/>
<rect x="572.6" y="364.5" width="5.9" height="12" fill="url(#xd)" stroke="#000" stroke-width="1.53"/>
<line x1="379.4" y1="129.5" x2="379.4" y2="250" stroke="#000" stroke-width="1.06"/>
<line x1="388.2" y1="133.5" x2="388.2" y2="236" stroke="#000" stroke-width="1.06"/>
<line x1="392.4" y1="133.5" x2="392.4" y2="236" stroke="#000" stroke-width="1.3"/>
<rect x="386.5" y="234.5" width="8" height="10.8" fill="url(#xd)" stroke="#000" stroke-width="1.53"/>
<path d="M379.4 250 L379.4 253.3 L392.5 253.3 L392.5 245.3" fill="none" stroke="#000" stroke-width="1.53"/>
<rect x="202.36" y="157.3" width="83.14" height="7.3" fill="#fff" stroke="#000" stroke-width="1.89"/>
<line x1="202.52" y1="160.2" x2="279" y2="160.2" stroke="#000" stroke-width="0.94"/>
<rect x="278.6" y="153.6" width="7" height="11.4" fill="url(#xd)" stroke="#000" stroke-width="1.53"/>
<line x1="279.5" y1="165" x2="279.5" y2="293.5" stroke="#000" stroke-width="1.42"/>
<line x1="282.3" y1="165" x2="282.3" y2="293.5" stroke="#000" stroke-width="0.83"/>
<line x1="285.6" y1="165" x2="285.6" y2="293.5" stroke="#000" stroke-width="1.65"/>
<rect x="279.5" y="185.5" width="6.1" height="13" fill="url(#xd)" stroke="#000" stroke-width="1.53"/>
<rect x="279.5" y="250" width="6.1" height="13" fill="url(#xd)" stroke="#000" stroke-width="1.53"/>
<path d="M202.36 157.5 L209.6 280 L218.4 420 L221.4 460 L228.1 560 L230.26 586" fill="none" stroke="#000" stroke-width="2.83"/>
<path d="M208 165 L215.8 280 L222.5 390" fill="none" stroke="#000" stroke-width="1.42"/>
<path d="M226.8 442 L229.6 460 L236.6 560 L238 578" fill="none" stroke="#000" stroke-width="1.53"/>
<path d="M205.6 193 L210.6 193 L211.8 212 L206.8 212 Z" fill="url(#xd)" stroke="#000" stroke-width="1.06"/>
<path d="M209 250 L214 250 L215.4 272 L210.4 272 Z" fill="url(#xd)" stroke="#000" stroke-width="1.06"/>
<rect x="279" y="293.5" width="68" height="6.3" fill="url(#xh)" stroke="#000" stroke-width="1.65"/>
<rect x="279" y="293.5" width="13" height="6.3" fill="url(#xd)" stroke="#000" stroke-width="1.53"/>
<rect x="334" y="293.5" width="13" height="6.3" fill="url(#xd)" stroke="#000" stroke-width="1.53"/>
<rect x="370" y="293.5" width="106.5" height="6.5" fill="url(#xh)" stroke="#000" stroke-width="1.65"/>
<rect x="370" y="293.5" width="14" height="6.5" fill="url(#xd)" stroke="#000" stroke-width="1.53"/>
<rect x="462" y="293.5" width="14.5" height="6.5" fill="url(#xd)" stroke="#000" stroke-width="1.53"/>
<path d="M214.6 334.8 L224.2 334.8 L224.2 345.7 L215.3 345.7 Z" fill="url(#xd)" stroke="#000" stroke-width="1.53"/>
<path d="M215.3 345.7 L224.2 345.7 L224.2 383 L217.7 383 Z" fill="url(#xh)" stroke="#000" stroke-width="1.53"/>
<path d="M217.7 383 L224.2 383 L224.2 389.5 L218.1 389.5 Z" fill="#999" stroke="#000" stroke-width="1.18"/>
<rect x="266.7" y="333.8" width="6.2" height="61.7" fill="url(#xh)" stroke="#000" stroke-width="1.65"/>
<rect x="218.1" y="389.5" width="54.8" height="6" fill="url(#xh)" stroke="#000" stroke-width="1.65"/>
<line x1="224.5" y1="340.5" x2="266.5" y2="389" stroke="#777" stroke-width="0.71"/>
<line x1="266.5" y1="340.5" x2="224.5" y2="389" stroke="#777" stroke-width="0.71"/>
<line x1="224.2" y1="337" x2="266.7" y2="337" stroke="#777" stroke-width="0.83"/>
<line x1="224.2" y1="340" x2="266.7" y2="340" stroke="#777" stroke-width="0.83"/>
<line x1="258.5" y1="320" x2="258.5" y2="389.5" stroke="#000" stroke-width="0.83"/>
<line x1="268" y1="293" x2="268" y2="333" stroke="#000" stroke-width="0.83"/>
<rect x="274" y="338.5" width="13" height="10.5" fill="#fff" stroke="#000" stroke-width="1.77"/>
<line x1="280.5" y1="338.5" x2="280.5" y2="349" stroke="#000" stroke-width="1.18"/>
<line x1="266" y1="333.4" x2="288" y2="333.4" stroke="#000" stroke-width="1.77"/>
<path d="M357.3 338.6 L357.3 333.5 L312.6 333.5 L312.6 403.5 L347 403.5 L347 420" fill="none" stroke="#000" stroke-width="1.77"/>
<path d="M356 339.3 L318.5 339.3 L318.5 397.3 L353.6 397.3 L353.6 420" fill="none" stroke="#000" stroke-width="1.53"/>
<path d="M316 400.2 L350 400.2 L350 420" fill="none" stroke="#000" stroke-width="0.94"/>
<rect x="352.2" y="375" width="3" height="22" fill="#000" stroke="#000" stroke-width="0.47"/>
<line x1="347" y1="420" x2="347" y2="436" stroke="#000" stroke-width="1.77"/>
<line x1="350" y1="420" x2="350" y2="436" stroke="#000" stroke-width="0.94"/>
<line x1="353.6" y1="420" x2="353.6" y2="436" stroke="#000" stroke-width="1.53"/>
<path d="M272.9 394.5 L291.6 394.5 L291.6 411.7 L288.8 411.7 L288.8 394.5" fill="none" stroke="#000" stroke-width="1.65"/>
<rect x="221" y="435" width="95.3" height="6.7" fill="url(#xh)" stroke="#000" stroke-width="1.77"/>
<rect x="221" y="435" width="11" height="6.7" fill="url(#xd)" stroke="#000" stroke-width="1.53"/>
<rect x="302.5" y="435" width="13.8" height="6.7" fill="url(#xd)" stroke="#000" stroke-width="1.53"/>
<rect x="345.7" y="434.5" width="7.1" height="12.5" fill="url(#xd)" stroke="#000" stroke-width="1.53"/>
<line x1="345.7" y1="446" x2="345.7" y2="585" stroke="#000" stroke-width="1.65"/>
<line x1="349" y1="446" x2="349" y2="585" stroke="#222" stroke-width="0.83"/>
<line x1="337.5" y1="435" x2="345.7" y2="435" stroke="#000" stroke-width="1.42"/>
<line x1="337.5" y1="438" x2="345.7" y2="438" stroke="#000" stroke-width="1.42"/>
<path d="M226.6 506.4 L232.2 506.4 L232.9 516.7 L227.3 516.7 Z" fill="url(#xd)" stroke="#000" stroke-width="1.18"/>
<rect x="231.6" y="574.8" width="6.1" height="10.2" fill="url(#xd)" stroke="#000" stroke-width="1.53"/>
<rect x="237.7" y="577.8" width="24.3" height="7" fill="#fff" stroke="#000" stroke-width="1.53"/>
<line x1="230.3" y1="585.6" x2="238" y2="585.6" stroke="#000" stroke-width="1.65"/>
<line x1="262" y1="578.8" x2="307" y2="578.8" stroke="#777" stroke-width="0.83"/>
<line x1="262" y1="581.2" x2="307" y2="581.2" stroke="#777" stroke-width="0.83"/>
<rect x="307.2" y="572.3" width="9.4" height="12" fill="url(#xd)" stroke="#000" stroke-width="1.77"/>
<line x1="316.6" y1="578.6" x2="345" y2="578.6" stroke="#000" stroke-width="1.42"/>
<line x1="305.6" y1="584.8" x2="349" y2="584.8" stroke="#000" stroke-width="1.77"/>
<line x1="352.2" y1="446" x2="352.2" y2="612" stroke="#000" stroke-width="1.77"/>
<path d="M233 443 L238.2 526 L240.5 570" fill="none" stroke="#333" stroke-width="0.94"/>
<line x1="249.2" y1="442" x2="249.2" y2="578" stroke="#000" stroke-width="1.18"/>
<line x1="247.6" y1="442" x2="247.6" y2="553" stroke="#666" stroke-width="0.59"/>
<line x1="390.8" y1="326.4" x2="390.8" y2="381" stroke="#000" stroke-width="1.06"/>
<line x1="395.9" y1="326.4" x2="395.9" y2="381" stroke="#000" stroke-width="2.24"/>
<rect x="381.6" y="333.3" width="15.4" height="3.3" fill="#fff" stroke="#000" stroke-width="1.3"/>
<rect x="397" y="333.3" width="21.7" height="3.3" fill="#000" stroke="#000" stroke-width="0.35"/>
<line x1="463.8" y1="326" x2="463.8" y2="381" stroke="#000" stroke-width="1.53"/>
<line x1="466.3" y1="326" x2="466.3" y2="381" stroke="#000" stroke-width="1.42"/>
<rect x="470" y="366.6" width="7.2" height="13" fill="#fff" stroke="#000" stroke-width="1.77"/>
<rect x="472" y="368.6" width="3.3" height="9" fill="#999" stroke="#000" stroke-width="0.94"/>
<rect x="397.4" y="376.5" width="53.9" height="4.6" fill="#000" stroke="#000" stroke-width="0.59"/>
<rect x="391.2" y="381.1" width="60.1" height="5.2" fill="url(#xh)" stroke="#000" stroke-width="1.53"/>
<rect x="391.2" y="381.1" width="11.8" height="5.2" fill="url(#xd)" stroke="#000" stroke-width="1.53"/>
<rect x="438" y="381.1" width="13.3" height="5.2" fill="url(#xd)" stroke="#000" stroke-width="1.53"/>
<rect x="451.3" y="381.1" width="29.7" height="5.2" fill="#fff" stroke="#000" stroke-width="1.65"/>
<rect x="450.3" y="371.3" width="13.5" height="8.3" fill="#fff" stroke="#000" stroke-width="1.77"/>
<line x1="457" y1="371.3" x2="457" y2="379.6" stroke="#000" stroke-width="1.42"/>
<path d="M378 383.5 L378 389.5 L381.2 389.5 L381.2 388 L460.8 388 L460.8 422.3 L466 422.3" fill="none" stroke="#000" stroke-width="1.65"/>
<path d="M378 385.6 L465.3 385.6 L465.3 422.3" fill="none" stroke="#000" stroke-width="1.77"/>
<line x1="481" y1="380.3" x2="541" y2="380.3" stroke="#666" stroke-width="0.83"/>
<line x1="481" y1="383.4" x2="541" y2="383.4" stroke="#666" stroke-width="0.83"/>
<path d="M541.3 369.4 L541.3 386.6 L551.4 386.6 L551.4 414.7 L467.8 414.7 L467.8 389" fill="none" stroke="#000" stroke-width="1.53"/>
<path d="M545.2 371 L545.2 383 L554.5 383" fill="none" stroke="#000" stroke-width="1.42"/>
<path d="M554.5 377.2 L554.5 418 L465.5 418" fill="none" stroke="#000" stroke-width="1.42"/>
<line x1="541.3" y1="370" x2="572" y2="370" stroke="#000" stroke-width="1.65"/>
<line x1="554.5" y1="377.2" x2="572.5" y2="377.2" stroke="#000" stroke-width="1.53"/>
<line x1="556" y1="379.4" x2="580" y2="379.4" stroke="#000" stroke-width="1.18"/>
<path d="M378.3 465 L378.3 411 L381.3 411 L381.3 461.3" fill="none" stroke="#000" stroke-width="1.65"/>
<line x1="381.3" y1="461.3" x2="446" y2="461.3" stroke="#000" stroke-width="1.53"/>
<line x1="378.3" y1="464.8" x2="446" y2="464.8" stroke="#000" stroke-width="1.65"/>
<rect x="445.2" y="459" width="21.3" height="7" fill="url(#xd)" stroke="#000" stroke-width="1.53"/>
<line x1="460.3" y1="466.3" x2="460.3" y2="584" stroke="#000" stroke-width="1.42"/>
<line x1="467" y1="466.3" x2="467" y2="585" stroke="#000" stroke-width="1.65"/>
<rect x="460.3" y="507.5" width="6.7" height="12.5" fill="url(#xd)" stroke="#000" stroke-width="1.53"/>
<rect x="460.3" y="520" width="6.7" height="53.3" fill="url(#xh)" stroke="#000" stroke-width="1.3"/>
<rect x="415" y="466.3" width="17.3" height="13" fill="#fff" stroke="#000" stroke-width="1.89"/>
<line x1="423.6" y1="466.3" x2="423.6" y2="479.3" stroke="#000" stroke-width="1.65"/>
<line x1="415" y1="472.8" x2="432.3" y2="472.8" stroke="#000" stroke-width="1.65"/>
<path d="M469.8 586.4 L441.5 586.4 L441.5 626.3 L352 626.3" fill="none" stroke="#000" stroke-width="1.77"/>
<path d="M461 578.4 L435.7 578.4 L435.7 616.8 L351.5 616.8" fill="none" stroke="#000" stroke-width="1.77"/>
<line x1="430.6" y1="578.4" x2="430.6" y2="616.8" stroke="#000" stroke-width="1.3"/>
<rect x="425.5" y="617.5" width="16" height="6.8" fill="#fff" stroke="#000" stroke-width="1.65"/>
<rect x="345.7" y="608.8" width="10.2" height="15.5" fill="#fff" stroke="#000" stroke-width="1.65"/>
<line x1="356" y1="618.5" x2="425.5" y2="618.5" stroke="#777" stroke-width="0.83"/>
<line x1="356" y1="620.6" x2="425.5" y2="620.6" stroke="#777" stroke-width="0.83"/>
<rect x="461" y="573.3" width="6" height="10.2" fill="url(#xd)" stroke="#000" stroke-width="1.53"/>
<path d="M256.4 587.5 L256.4 620.5 L305.6 620.5" fill="none" stroke="#000" stroke-width="1.3"/>
<path d="M259.5 587.5 L259.5 617.6 L305.6 617.6" fill="none" stroke="#000" stroke-width="1.06"/>
<path d="M307 585 L307 624.6 L347 624.6" fill="none" stroke="#000" stroke-width="2.36"/>
<line x1="309.5" y1="621.6" x2="345" y2="621.6" stroke="#000" stroke-width="0.94"/>
<path d="M345.5 586 L345.5 592 L352.5 592" fill="none" stroke="#000" stroke-width="1.42"/>
<rect x="233.5" y="588.8" width="17" height="5.6" fill="#fff" stroke="#444" stroke-width="0.83"/>
<text x="234.2" y="592.4" font-size="2.9" font-weight="bold" textLength="15.4" lengthAdjust="spacingAndGlyphs" stroke="#000" stroke-width="0.25">КЛИМАТИК</text>
<rect x="562.3" y="381" width="17.4" height="4.6" fill="#fff" stroke="#444" stroke-width="0.83"/>
<text x="563" y="384.2" font-size="2.8" font-weight="bold" textLength="16" lengthAdjust="spacingAndGlyphs" stroke="#000" stroke-width="0.25">КЛИМАТИК</text>
<line x1="210.5" y1="177.7" x2="240.4" y2="175.6" stroke="#111" stroke-width="0.94"/>
<line x1="210.8" y1="182.6" x2="240.63" y2="180.5" stroke="#111" stroke-width="0.94"/>
<line x1="211.24" y1="189.6" x2="240.96" y2="187.5" stroke="#111" stroke-width="0.94"/>
<line x1="211.67" y1="196.5" x2="241.29" y2="194.4" stroke="#111" stroke-width="0.94"/>
<line x1="212.09" y1="203.4" x2="241.61" y2="201.3" stroke="#111" stroke-width="0.94"/>
<line x1="212.52" y1="210.3" x2="241.94" y2="208.2" stroke="#111" stroke-width="0.94"/>
<line x1="212.95" y1="217.2" x2="242.26" y2="215.1" stroke="#111" stroke-width="0.94"/>
<line x1="213.38" y1="224.1" x2="242.58" y2="222" stroke="#111" stroke-width="0.94"/>
<line x1="213.8" y1="231" x2="242.91" y2="228.9" stroke="#111" stroke-width="0.94"/>
<line x1="214.23" y1="237.9" x2="243.23" y2="235.8" stroke="#111" stroke-width="0.94"/>
<line x1="214.66" y1="244.8" x2="243.56" y2="242.7" stroke="#111" stroke-width="0.94"/>
<line x1="215.09" y1="251.7" x2="243.88" y2="249.6" stroke="#111" stroke-width="0.94"/>
<line x1="215.52" y1="258.6" x2="244.21" y2="256.5" stroke="#111" stroke-width="0.94"/>
<line x1="215.94" y1="265.5" x2="244.53" y2="263.4" stroke="#111" stroke-width="0.94"/>
<line x1="216.37" y1="272.4" x2="244.85" y2="270.3" stroke="#111" stroke-width="0.94"/>
<line x1="216.8" y1="279.3" x2="245.18" y2="277.2" stroke="#111" stroke-width="0.94"/>
<line x1="240.3" y1="175.5" x2="247.6" y2="284" stroke="#111" stroke-width="1.06"/>
<line x1="224.8" y1="181.3" x2="231.6" y2="289" stroke="#111" stroke-width="0.94"/>
<line x1="214.8" y1="183" x2="221" y2="287" stroke="#222" stroke-width="0.83"/>
<circle cx="224.7" cy="181.4" r="1.1" fill="#000" stroke="none" stroke-width="0"/>
<circle cx="240.3" cy="175.5" r="0.8" fill="#000" stroke="none" stroke-width="0"/>
<path d="M217.7 284.5 L231 290 L247.4 282.6" fill="none" stroke="#111" stroke-width="1.06"/>
<line x1="217.5" y1="291.5" x2="247.5" y2="289" stroke="#111" stroke-width="1.06"/>
<line x1="217.3" y1="284" x2="218.3" y2="292" stroke="#111" stroke-width="0.94"/>
<line x1="247.4" y1="282" x2="247.7" y2="289.5" stroke="#111" stroke-width="0.94"/>
<text x="226" y="178.2" font-size="3.2" text-anchor="middle" fill="#555" transform="rotate(-4 226 178.2)">120</text>
<line x1="209" y1="169.7" x2="279" y2="169.7" stroke="#000" stroke-width="0.94"/>
<rect x="239.5" y="167.7" width="8" height="4" fill="#fff" stroke="none" stroke-width="0"/>
<text x="243.5" y="171.2" font-size="3.6" text-anchor="middle" fill="#333">273</text>
<line x1="243" y1="200.3" x2="279" y2="200.3" stroke="#222" stroke-width="0.83" stroke-dasharray="2.5 1"/>
<line x1="239" y1="154.6" x2="277" y2="154.6" stroke="#111" stroke-width="0.94" stroke-dasharray="3 1"/>
<line x1="239" y1="150" x2="239" y2="157" stroke="#000" stroke-width="0.94"/>
<text x="249.5" y="213.5" font-size="3.3" fill="#333">вт.</text>
<text x="249.5" y="219.3" font-size="3.5" fill="#222">±0.00</text>
<path d="M250 220.6 L259 220.6 L254.5 224.6 Z" fill="#fff" stroke="#000" stroke-width="1.06"/>
<rect x="247.6" y="231.8" width="27" height="6.4" fill="none" stroke="#111" stroke-width="1.18"/>
<line x1="248" y1="238" x2="248" y2="284" stroke="#000" stroke-width="1.06"/>
<line x1="278" y1="232" x2="278" y2="293" stroke="#333" stroke-width="0.83"/>
<line x1="248" y1="252.1" x2="278.5" y2="252.1" stroke="#111" stroke-width="1.06"/>
<line x1="248" y1="259.8" x2="278.5" y2="259.8" stroke="#111" stroke-width="1.06"/>
<line x1="248" y1="267.6" x2="278.5" y2="267.6" stroke="#111" stroke-width="1.06"/>
<line x1="248" y1="274.8" x2="278.5" y2="274.8" stroke="#111" stroke-width="1.06"/>
<line x1="248" y1="282" x2="278.5" y2="282" stroke="#111" stroke-width="1.06"/>
<line x1="248" y1="286.4" x2="278.5" y2="286.4" stroke="#111" stroke-width="1.06"/>
<line x1="248.6" y1="251.5" x2="276.2" y2="239.4" stroke="#111" stroke-width="1.06"/>
<line x1="264" y1="246.6" x2="276.2" y2="251.5" stroke="#111" stroke-width="1.06"/>
<line x1="263.5" y1="246.6" x2="263.5" y2="282" stroke="#000" stroke-width="0.94"/>
<circle cx="263.5" cy="282" r="1.2" fill="#000" stroke="none" stroke-width="0"/>
<text x="264.5" y="289" font-size="3.2" text-anchor="middle" fill="#444">120</text>
<line x1="258.6" y1="282" x2="258.6" y2="320" stroke="#333" stroke-width="0.71"/>
<text x="227" y="298.6" font-size="3.6" fill="#333">12.87м2</text>
<text x="226.5" y="305.3" font-size="4.3" textLength="21" lengthAdjust="spacingAndGlyphs" fill="#222">±2.80 Нет</text>
<path d="M227 306.3 L235 306.3 L231 310 Z" fill="#fff" stroke="#000" stroke-width="1.06"/>
<text x="255" y="243" font-size="3" fill="#555" transform="rotate(-90 255 243)">9x17</text>
<text x="270" y="262" font-size="3" fill="#555" transform="rotate(-90 270 262)">8x17/28</text>
<text x="233" y="268" font-size="3" fill="#555" transform="rotate(-86 233 268)">9x17/28</text>
<path d="M199.4 120.5 L202.5 157" fill="none" stroke="#111" stroke-width="1.06"/>
<path d="M202.2 122.6 L205 157" fill="none" stroke="#222" stroke-width="0.83"/>
<line x1="202" y1="122.6" x2="276" y2="122.6" stroke="#222" stroke-width="0.83"/>
<line x1="222" y1="120.5" x2="222" y2="157" stroke="#000" stroke-width="0.94"/>
<circle cx="222" cy="120.5" r="0.8" fill="#000" stroke="none" stroke-width="0"/>
<circle cx="222" cy="157" r="0.8" fill="#000" stroke="none" stroke-width="0"/>
<text x="223.5" y="139" font-size="3.2" text-anchor="middle" fill="#444" transform="rotate(-90 223.5 139)">133</text>
<text x="236" y="131" font-size="4.2" fill="#222">Т</text>
<text x="235.5" y="137.7" font-size="3.5" fill="#333">3.41м2</text>
<text x="235.5" y="143.7" font-size="3.5" fill="#333">+2.80</text>
<text x="203.5" y="125.8" font-size="2.6" fill="#555">1%</text>
<text x="203.5" y="130.6" font-size="2.6" fill="#555">7.1 м</text>
<rect x="276.1" y="139.2" width="8.7" height="7.8" fill="#2a2a2a" stroke="none" stroke-width="0"/>
<line x1="273" y1="143.3" x2="295" y2="143.3" stroke="#000" stroke-width="0.94"/>
<circle cx="289.75" cy="143.3" r="2.8" fill="#fff" stroke="#000" stroke-width="1.06"/>
<circle cx="289.75" cy="143.3" r="0.7" fill="#000" stroke="none" stroke-width="0"/>
<rect x="286" y="133.4" width="18.8" height="3.2" fill="none" stroke="#555" stroke-width="0.94"/>
<line x1="286" y1="136.7" x2="321.4" y2="136.7" stroke="#666" stroke-width="0.83"/>
<path d="M304 136.6 A17.5 17.5 0 0 1 286.5 154.1" fill="none" stroke="#777" stroke-width="0.83"/>
<line x1="276.4" y1="120.5" x2="276.4" y2="148" stroke="#222" stroke-width="0.94"/>
<line x1="278.4" y1="122.6" x2="278.4" y2="133.4" stroke="#666" stroke-width="0.83"/>
<line x1="282.2" y1="126.4" x2="282.2" y2="133.4" stroke="#666" stroke-width="0.83"/>
<line x1="285.1" y1="128.7" x2="285.1" y2="139.2" stroke="#222" stroke-width="1.06"/>
<line x1="278.4" y1="133.4" x2="285.1" y2="133.4" stroke="#666" stroke-width="0.83"/>
<line x1="295.8" y1="128.7" x2="295.8" y2="224" stroke="#333" stroke-width="0.83" stroke-dasharray="1.5 0.8"/>
<circle cx="295.8" cy="128.7" r="0.8" fill="#000" stroke="none" stroke-width="0"/>
<circle cx="295.8" cy="154" r="0.9" fill="#000" stroke="none" stroke-width="0"/>
<line x1="287.5" y1="154" x2="296" y2="154" stroke="#000" stroke-width="1.53"/>
<rect x="326.5" y="130" width="59.5" height="23.6" fill="none" stroke="#444" stroke-width="1.06"/>
<line x1="331.2" y1="130" x2="331.2" y2="153.6" stroke="#777" stroke-width="0.83"/>
<line x1="331" y1="133" x2="386" y2="133" stroke="#777" stroke-width="0.83"/>
<path d="M345.52 143.56 L339.65 144.55 L336.07 147.67 L335.3 142.04 L331.12 138.32 L337.23 137.09 L340.8 134.68 L342.05 139.85 Z" fill="none" stroke="#666" stroke-width="0.94"/>
<path d="M353.44 146.79 L348.28 144.87 L343.98 145.71 L345.96 140.85 L344.34 135.95 L349.79 137.79 L353.76 137.51 L352.37 142.22 Z" fill="none" stroke="#666" stroke-width="0.94"/>
<path d="M379.36 140.3 L373.75 142.3 L370.77 145.99 L369.03 140.58 L364.27 137.64 L370.07 135.37 L373.17 132.37 L375.3 137.25 Z" fill="none" stroke="#666" stroke-width="0.94"/>
<path d="M385.4 146.7 L380.9 145.87 L377.49 147.18 L378.41 142.91 L376.38 139.12 L381.11 139.84 L384.33 139.04 L383.87 143.1 Z" fill="none" stroke="#666" stroke-width="0.94"/>
<circle cx="358.9" cy="164.2" r="9" fill="none" stroke="#777" stroke-width="0.94"/>
<line x1="321.4" y1="128.9" x2="321.4" y2="293.5" stroke="#000" stroke-width="1.06"/>
<line x1="352.8" y1="120.5" x2="352.8" y2="250" stroke="#000" stroke-width="0.94"/>
<line x1="379.2" y1="130" x2="379.2" y2="170" stroke="#555" stroke-width="0.71"/>
<text x="353.8" y="210" font-size="3.2" text-anchor="middle" fill="#444" transform="rotate(-90 353.8 210)">630</text>
<line x1="286" y1="169.7" x2="379" y2="169.7" stroke="#000" stroke-width="0.94"/>
<rect x="333" y="167.7" width="8" height="4" fill="#fff" stroke="none" stroke-width="0"/>
<text x="337" y="171.2" font-size="3.5" text-anchor="middle" fill="#333">460</text>
<rect x="287.8" y="185.5" width="29.7" height="21.5" fill="none" stroke="#777" stroke-width="0.83"/>
<rect x="287.8" y="178" width="12.2" height="12.7" rx="2" fill="none" stroke="#777" stroke-width="0.7"/>
<path d="M288.3 180 Q293.9 178.2 299.5 180" fill="none" stroke="#777" stroke-width="0.83"/>
<rect x="303.4" y="178" width="12.4" height="12.7" rx="2" fill="none" stroke="#777" stroke-width="0.7"/>
<path d="M303.9 180 Q309.6 178.2 315.3 180" fill="none" stroke="#777" stroke-width="0.83"/>
<rect x="287.8" y="201.5" width="12.2" height="12.7" rx="2" fill="none" stroke="#777" stroke-width="0.7"/>
<path d="M288.3 212.2 Q293.9 214 299.5 212.2" fill="none" stroke="#777" stroke-width="0.83"/>
<rect x="303.4" y="201.5" width="12.4" height="12.7" rx="2" fill="none" stroke="#777" stroke-width="0.7"/>
<path d="M303.9 212.2 Q309.6 214 315.3 212.2" fill="none" stroke="#777" stroke-width="0.83"/>
<text x="328" y="199.5" font-size="4.3" font-weight="bold" fill="#111">ДН</text>
<text x="328" y="205" font-size="3.3" fill="#333">22.50м2</text>
<rect x="286.7" y="224.3" width="12.5" height="15.6" fill="#fff" stroke="#000" stroke-width="1.89"/>
<line x1="293" y1="224.3" x2="293" y2="239.9" stroke="#000" stroke-width="1.65"/>
<line x1="286.7" y1="232.1" x2="299.2" y2="232.1" stroke="#000" stroke-width="1.65"/>
<line x1="303.5" y1="224" x2="303.5" y2="293.5" stroke="#000" stroke-width="0.94"/>
<line x1="299" y1="224.3" x2="305" y2="224.3" stroke="#000" stroke-width="0.94"/>
<line x1="299" y1="239.9" x2="305" y2="239.9" stroke="#000" stroke-width="0.94"/>
<text x="304.6" y="232" font-size="3" text-anchor="middle" fill="#444" transform="rotate(-90 304.6 232)">60</text>
<rect x="286" y="240" width="15" height="18" fill="none" stroke="#777" stroke-width="0.83"/>
<line x1="291" y1="249.2" x2="295" y2="249.2" stroke="#000" stroke-width="0.94"/>
<line x1="293" y1="247.2" x2="293" y2="251.2" stroke="#000" stroke-width="0.94"/>
<rect x="286" y="261" width="15" height="16.5" fill="none" stroke="#777" stroke-width="0.83"/>
<circle cx="289.3" cy="266.7" r="2.2" fill="none" stroke="#777" stroke-width="0.83"/>
<circle cx="295.8" cy="266.7" r="2.2" fill="none" stroke="#777" stroke-width="0.83"/>
<circle cx="295.8" cy="273" r="2.2" fill="none" stroke="#777" stroke-width="0.83"/>
<line x1="285.6" y1="260.4" x2="470" y2="260.4" stroke="#000" stroke-width="0.94"/>
<rect x="310" y="258.4" width="8" height="4" fill="#fff" stroke="none" stroke-width="0"/>
<text x="314" y="262" font-size="3.5" text-anchor="middle" fill="#333">260</text>
<text x="304.6" y="268" font-size="3" text-anchor="middle" fill="#444" transform="rotate(-90 304.6 268)">60</text>
<rect x="307.3" y="279" width="5" height="14.4" fill="#999" stroke="#333" stroke-width="0.83"/>
<line x1="307.3" y1="281" x2="312.3" y2="281" stroke="#fff" stroke-width="0.59"/>
<line x1="307.3" y1="283" x2="312.3" y2="283" stroke="#fff" stroke-width="0.59"/>
<line x1="307.3" y1="285" x2="312.3" y2="285" stroke="#fff" stroke-width="0.59"/>
<line x1="307.3" y1="287" x2="312.3" y2="287" stroke="#fff" stroke-width="0.59"/>
<line x1="307.3" y1="289" x2="312.3" y2="289" stroke="#fff" stroke-width="0.59"/>
<line x1="307.3" y1="291" x2="312.3" y2="291" stroke="#fff" stroke-width="0.59"/>
<rect x="312.3" y="280" width="14.7" height="13.4" fill="none" stroke="#777" stroke-width="0.83"/>
<rect x="314.5" y="287" width="10.5" height="6.4" fill="none" stroke="#777" stroke-width="0.71"/>
<text x="333" y="286.5" font-size="3.2" text-anchor="middle" fill="#444">10.8</text>
<path d="M355 251 L342 251 L342 293.5" fill="none" stroke="#000" stroke-width="1.77"/>
<path d="M355 254.2 L345.8 254.2 L345.8 293.5" fill="none" stroke="#000" stroke-width="1.53"/>
<line x1="355" y1="251" x2="355" y2="254.2" stroke="#000" stroke-width="1.53"/>
<line x1="342" y1="243" x2="355" y2="243" stroke="#000" stroke-width="0.94"/>
<line x1="342" y1="240.5" x2="342" y2="245.5" stroke="#000" stroke-width="1.06"/>
<line x1="355" y1="240.5" x2="355" y2="245.5" stroke="#000" stroke-width="1.06"/>
<text x="348.5" y="241.6" font-size="3" text-anchor="middle" fill="#444">18</text>
<line x1="337.4" y1="251" x2="337.4" y2="293.5" stroke="#000" stroke-width="0.94"/>
<line x1="335.5" y1="251" x2="342" y2="251" stroke="#000" stroke-width="1.06"/>
<text x="338.6" y="273" font-size="3" text-anchor="middle" fill="#444" transform="rotate(-90 338.6 273)">116</text>
<line x1="353.3" y1="215" x2="353.3" y2="250" stroke="#000" stroke-width="0.94"/>
<line x1="353.3" y1="254" x2="353.3" y2="293.5" stroke="#555" stroke-width="0.71"/>
<text x="354.5" y="272" font-size="3" text-anchor="middle" fill="#444" transform="rotate(-90 354.5 272)">90</text>
<path d="M354.9 253.3 A24.5 24.5 0 0 1 375.99 229.04" fill="none" stroke="#555" stroke-width="0.83"/>
<path d="M348.2 293.5 A22.5 22.5 0 0 1 370.7 271" fill="none" stroke="#555" stroke-width="0.83"/>
<line x1="370.7" y1="271" x2="370.7" y2="293.5" stroke="#666" stroke-width="0.83"/>
<circle cx="365.7" cy="238" r="3.2" fill="#fff" stroke="#000" stroke-width="1.06"/>
<line x1="363.5" y1="238" x2="367.9" y2="238" stroke="#000" stroke-width="0.83"/>
<line x1="365.7" y1="235.8" x2="365.7" y2="238" stroke="#000" stroke-width="0.83"/>
<rect x="361.4" y="246.3" width="8.5" height="7" fill="#2a2a2a" stroke="none" stroke-width="0"/>
<line x1="361.4" y1="248.6" x2="369.9" y2="248.6" stroke="#ddd" stroke-width="0.59"/>
<line x1="361.4" y1="250.9" x2="369.9" y2="250.9" stroke="#ddd" stroke-width="0.59"/>
<line x1="365.6" y1="246.3" x2="365.6" y2="253.3" stroke="#ddd" stroke-width="0.71"/>
<line x1="365.7" y1="241" x2="365.7" y2="258" stroke="#000" stroke-width="0.83"/>
<circle cx="358.9" cy="283.4" r="3.2" fill="#fff" stroke="#000" stroke-width="1.06"/>
<text x="358.9" y="284.8" font-size="3.6" text-anchor="middle" font-weight="bold">1</text>
<rect x="354.7" y="291" width="8.5" height="7" fill="#2a2a2a" stroke="none" stroke-width="0"/>
<line x1="354.7" y1="293.3" x2="363.2" y2="293.3" stroke="#ddd" stroke-width="0.59"/>
<line x1="354.7" y1="295.6" x2="363.2" y2="295.6" stroke="#ddd" stroke-width="0.59"/>
<line x1="358.9" y1="291" x2="358.9" y2="298" stroke="#ddd" stroke-width="0.71"/>
<rect x="352.6" y="299.8" width="13.1" height="5.5" fill="#fff" stroke="#333" stroke-width="0.83"/>
<text x="359.2" y="304.2" font-size="3" text-anchor="middle" fill="#333">ап.1</text>
<text x="381.3" y="265" font-size="4" font-weight="bold" fill="#111">А</text>
<text x="381.5" y="270" font-size="3.2" fill="#333">4.54м2</text>
<rect x="375" y="277.8" width="42" height="15.6" fill="none" stroke="#777" stroke-width="0.94"/>
<line x1="396" y1="277.8" x2="396" y2="293.4" stroke="#777" stroke-width="0.83"/>
<rect x="393" y="232" width="3.3" height="11" fill="#333" stroke="none" stroke-width="0"/>
<rect x="369" y="258.4" width="7" height="4" fill="#fff" stroke="none" stroke-width="0"/>
<text x="372.5" y="262" font-size="3.3" text-anchor="middle" fill="#333">161</text>
<line x1="396" y1="137.1" x2="556" y2="137.1" stroke="#000" stroke-width="0.94"/>
<line x1="407.5" y1="134.5" x2="407.5" y2="139.5" stroke="#000" stroke-width="1.18"/>
<line x1="456" y1="134.5" x2="456" y2="139.5" stroke="#000" stroke-width="1.18"/>
<line x1="485.2" y1="134.5" x2="485.2" y2="139.5" stroke="#000" stroke-width="1.18"/>
<line x1="530" y1="134.5" x2="530" y2="139.5" stroke="#000" stroke-width="1.18"/>
<rect x="397" y="135.1" width="7" height="4" fill="#fff" stroke="none" stroke-width="0"/>
<text x="400.5" y="138.6" font-size="3.4" text-anchor="middle" fill="#444">21</text>
<rect x="428.1" y="135.1" width="7" height="4" fill="#fff" stroke="none" stroke-width="0"/>
<text x="431.6" y="138.6" font-size="3.4" text-anchor="middle" fill="#444">187</text>
<rect x="459.5" y="135.1" width="7" height="4" fill="#fff" stroke="none" stroke-width="0"/>
<text x="463" y="138.6" font-size="3.4" text-anchor="middle" fill="#444">59</text>
<rect x="477.5" y="135.1" width="7" height="4" fill="#fff" stroke="none" stroke-width="0"/>
<text x="481" y="138.6" font-size="3.4" text-anchor="middle" fill="#444">111</text>
<rect x="504.5" y="135.1" width="7" height="4" fill="#fff" stroke="none" stroke-width="0"/>
<text x="508" y="138.6" font-size="3.4" text-anchor="middle" fill="#444">175</text>
<rect x="541.5" y="135.1" width="7" height="4" fill="#fff" stroke="none" stroke-width="0"/>
<text x="545" y="138.6" font-size="3.4" text-anchor="middle" fill="#444">122</text>
<line x1="392.5" y1="145.5" x2="470" y2="145.5" stroke="#000" stroke-width="0.94"/>
<line x1="477.6" y1="145.5" x2="556" y2="145.5" stroke="#000" stroke-width="0.94"/>
<rect x="427" y="143.5" width="8" height="4" fill="#fff" stroke="none" stroke-width="0"/>
<text x="431" y="147" font-size="3.5" text-anchor="middle" fill="#333">308</text>
<rect x="513" y="143.5" width="8" height="4" fill="#fff" stroke="none" stroke-width="0"/>
<text x="517" y="147" font-size="3.5" text-anchor="middle" fill="#333">310</text>
<text x="471" y="119" font-size="2.6" fill="#555">Ок14</text>
<rect x="420.5" y="160" width="36" height="43.5" fill="none" stroke="#666" stroke-width="1.06"/>
<rect x="421.7" y="161.2" width="33.6" height="41.1" fill="none" stroke="#999" stroke-width="0.71"/>
<line x1="421" y1="182" x2="456.5" y2="182" stroke="#666" stroke-width="0.94"/>
<path d="M451.5 161 L451.5 166 L456 166" fill="none" stroke="#777" stroke-width="0.83"/>
<path d="M451.5 202.5 L451.5 197.5 L456 197.5" fill="none" stroke="#777" stroke-width="0.83"/>
<rect x="457.3" y="163" width="9.2" height="17.3" rx="1.5" fill="none" stroke="#777" stroke-width="0.7"/>
<rect x="457.3" y="183.4" width="9.2" height="17.3" rx="1.5" fill="none" stroke="#777" stroke-width="0.7"/>
<line x1="466.8" y1="160" x2="466.8" y2="203.5" stroke="#777" stroke-width="0.83"/>
<rect x="459" y="148" width="9" height="12" fill="none" stroke="#777" stroke-width="0.83"/>
<rect x="459" y="204" width="9" height="10.5" fill="none" stroke="#777" stroke-width="0.83"/>
<line x1="458.3" y1="129.3" x2="458.3" y2="293" stroke="#222" stroke-width="0.94"/>
<text x="411" y="213" font-size="4" fill="#222">СП</text>
<text x="411" y="218.3" font-size="3.2" fill="#333">12.96м2</text>
<rect x="417.8" y="225.6" width="40.2" height="15.2" fill="none" stroke="#777" stroke-width="0.94"/>
<circle cx="404.4" cy="229.5" r="3.2" fill="#fff" stroke="#000" stroke-width="1.06"/>
<text x="404.4" y="230.9" font-size="3.6" text-anchor="middle" font-weight="bold">3</text>
<rect x="400.2" y="237.5" width="8.5" height="7" fill="#2a2a2a" stroke="none" stroke-width="0"/>
<line x1="400.2" y1="239.8" x2="408.7" y2="239.8" stroke="#ddd" stroke-width="0.59"/>
<line x1="400.2" y1="242.1" x2="408.7" y2="242.1" stroke="#ddd" stroke-width="0.59"/>
<line x1="404.4" y1="237.5" x2="404.4" y2="244.5" stroke="#ddd" stroke-width="0.71"/>
<line x1="404.4" y1="232.7" x2="404.4" y2="245" stroke="#000" stroke-width="0.83"/>
<path d="M394.59 222.09 A24 24 0 0 1 416.41 243.91" fill="none" stroke="#555" stroke-width="0.83"/>
<line x1="456.5" y1="150" x2="456.5" y2="215" stroke="#666" stroke-width="0.71"/>
<text x="459.6" y="186" font-size="3" text-anchor="middle" fill="#444" transform="rotate(-90 459.6 186)">340</text>
<rect x="479.6" y="158.2" width="47.1" height="44.1" fill="none" stroke="#666" stroke-width="1.06"/>
<rect x="489.6" y="159.4" width="35.9" height="41.7" fill="none" stroke="#999" stroke-width="0.71"/>
<line x1="489.6" y1="179.8" x2="526.7" y2="179.8" stroke="#666" stroke-width="0.94"/>
<line x1="489.6" y1="158.2" x2="489.6" y2="202.3" stroke="#777" stroke-width="0.83"/>
<rect x="481" y="162" width="8" height="16.3" rx="1.5" fill="none" stroke="#777" stroke-width="0.7"/>
<rect x="481" y="182" width="8" height="16.3" rx="1.5" fill="none" stroke="#777" stroke-width="0.7"/>
<path d="M489.6 163.3 L494 163.3 L494 158.5" fill="none" stroke="#777" stroke-width="0.83"/>
<path d="M489.6 197.3 L494 197.3 L494 202" fill="none" stroke="#777" stroke-width="0.83"/>
<rect x="479" y="148" width="8.5" height="10.2" fill="none" stroke="#777" stroke-width="0.83"/>
<rect x="479" y="202.3" width="8.5" height="10.2" fill="none" stroke="#777" stroke-width="0.83"/>
<text x="527" y="170.5" font-size="4" fill="#222">СП</text>
<text x="523" y="177" font-size="3.2" fill="#333">12.78м2</text>
<line x1="546.4" y1="134" x2="546.4" y2="232" stroke="#222" stroke-width="0.94"/>
<line x1="553.6" y1="134" x2="560" y2="232" stroke="#222" stroke-width="0.94"/>
<text x="548" y="181" font-size="3" text-anchor="middle" fill="#444" transform="rotate(-90 548 181)">265</text>
<text x="557" y="181" font-size="3" text-anchor="middle" fill="#444" transform="rotate(-87 557 181)">285</text>
<line x1="541.9" y1="211.4" x2="541.9" y2="231" stroke="#444" stroke-width="0.94"/>
<path d="M521.6 232 A20.3 20.3 0 0 1 541.9 211.7" fill="none" stroke="#555" stroke-width="0.83"/>
<circle cx="535" cy="219" r="3.2" fill="#fff" stroke="#000" stroke-width="1.06"/>
<line x1="532.8" y1="219" x2="537.2" y2="219" stroke="#000" stroke-width="0.83"/>
<line x1="535" y1="216.8" x2="535" y2="219" stroke="#000" stroke-width="0.83"/>
<rect x="530.8" y="226" width="8.5" height="7" fill="#2a2a2a" stroke="none" stroke-width="0"/>
<line x1="530.8" y1="228.3" x2="539.3" y2="228.3" stroke="#ddd" stroke-width="0.59"/>
<line x1="530.8" y1="230.6" x2="539.3" y2="230.6" stroke="#ddd" stroke-width="0.59"/>
<line x1="535" y1="226" x2="535" y2="233" stroke="#ddd" stroke-width="0.71"/>
<line x1="535" y1="222" x2="535" y2="238" stroke="#000" stroke-width="0.83"/>
<rect x="415.4" y="241" width="21.6" height="3" fill="#000" stroke="#000" stroke-width="0.71"/>
<rect x="437" y="242.7" width="12" height="6.6" fill="#fff" stroke="#000" stroke-width="1.89"/>
<line x1="444.6" y1="242.7" x2="444.6" y2="249.3" stroke="#000" stroke-width="1.42"/>
<rect x="449" y="246.5" width="22.5" height="2.5" fill="#000" stroke="#000" stroke-width="0.71"/>
<rect x="417.6" y="243" width="3.4" height="11.3" fill="#000" stroke="#000" stroke-width="0.59"/>
<rect x="417.6" y="273.6" width="3.4" height="19.9" fill="#000" stroke="#000" stroke-width="0.59"/>
<line x1="469.8" y1="249" x2="469.8" y2="293.5" stroke="#000" stroke-width="1.42"/>
<rect x="452.5" y="247" width="15.5" height="19.4" fill="none" stroke="#777" stroke-width="1.06"/>
<rect x="454" y="248.5" width="12.5" height="16.5" fill="none" stroke="#aaa" stroke-width="0.71"/>
<path d="M468 282.4 A16 16 0 0 1 452 266.4" fill="none" stroke="#666" stroke-width="0.83"/>
<path d="M439.43 255.91 A18.5 18.5 0 0 1 422.61 272.73" fill="none" stroke="#555" stroke-width="0.83"/>
<line x1="421" y1="254.6" x2="439.5" y2="254.6" stroke="#555" stroke-width="0.83"/>
<circle cx="432" cy="264.6" r="3.2" fill="#fff" stroke="#000" stroke-width="1.06"/>
<text x="432" y="266" font-size="3.6" text-anchor="middle" font-weight="bold">1</text>
<rect x="417" y="260.5" width="8.5" height="7" fill="#2a2a2a" stroke="none" stroke-width="0"/>
<line x1="417" y1="262.8" x2="425.5" y2="262.8" stroke="#ddd" stroke-width="0.59"/>
<line x1="417" y1="265.1" x2="425.5" y2="265.1" stroke="#ddd" stroke-width="0.59"/>
<line x1="421.2" y1="260.5" x2="421.2" y2="267.5" stroke="#ddd" stroke-width="0.71"/>
<line x1="425" y1="264.6" x2="441" y2="264.6" stroke="#000" stroke-width="0.94"/>
<text x="430" y="250" font-size="2.6" fill="#555">DVK</text>
<path d="M428.5 290 L428.5 280 A4.6 4.6 0 0 1 437.7 280 L437.7 290 Z" fill="none" stroke="#777" stroke-width="0.94"/>
<rect x="426.5" y="288.5" width="13" height="4.8" fill="none" stroke="#777" stroke-width="0.83"/>
<rect x="443" y="281" width="14.5" height="12.3" fill="none" stroke="#777" stroke-width="0.83"/>
<path d="M445 293 A5.2 5.2 0 0 1 455.5 293" fill="none" stroke="#777" stroke-width="0.83"/>
<line x1="413.2" y1="243" x2="413.2" y2="293.5" stroke="#000" stroke-width="0.94"/>
<text x="414.5" y="268" font-size="3" text-anchor="middle" fill="#444" transform="rotate(-90 414.5 268)">200</text>
<rect x="402" y="258.4" width="6" height="4" fill="#fff" stroke="none" stroke-width="0"/>
<text x="405" y="262" font-size="3.3" text-anchor="middle" fill="#333">80</text>
<line x1="494.3" y1="234.3" x2="494.3" y2="300" stroke="#333" stroke-width="0.94"/>
<line x1="478.4" y1="234.3" x2="478.4" y2="293.5" stroke="#555" stroke-width="0.71"/>
<circle cx="483.3" cy="239" r="2.2" fill="none" stroke="#777" stroke-width="0.83"/>
<circle cx="489.6" cy="239" r="2.2" fill="none" stroke="#777" stroke-width="0.83"/>
<circle cx="486.5" cy="245.2" r="2.2" fill="none" stroke="#777" stroke-width="0.83"/>
<line x1="478.4" y1="249.5" x2="494.3" y2="249.5" stroke="#777" stroke-width="0.83"/>
<line x1="478.4" y1="262" x2="494.3" y2="262" stroke="#777" stroke-width="0.83"/>
<line x1="478.4" y1="284" x2="494.3" y2="284" stroke="#777" stroke-width="0.83"/>
<rect x="479.5" y="263" width="14" height="6" fill="#999" stroke="#555" stroke-width="0.71"/>
<line x1="481" y1="263" x2="481" y2="269" stroke="#fff" stroke-width="0.59"/>
<line x1="483" y1="263" x2="483" y2="269" stroke="#fff" stroke-width="0.59"/>
<line x1="485" y1="263" x2="485" y2="269" stroke="#fff" stroke-width="0.59"/>
<line x1="487" y1="263" x2="487" y2="269" stroke="#fff" stroke-width="0.59"/>
<line x1="489" y1="263" x2="489" y2="269" stroke="#fff" stroke-width="0.59"/>
<line x1="491" y1="263" x2="491" y2="269" stroke="#fff" stroke-width="0.59"/>
<path d="M480 271 L493 271 L493 279 A6.5 5 0 0 1 480 279 Z" fill="none" stroke="#777" stroke-width="0.83"/>
<text x="486.5" y="258" font-size="3" text-anchor="middle" fill="#333" transform="rotate(-90 486.5 258)">60</text>
<text x="486.5" y="292" font-size="3" text-anchor="middle" fill="#333" transform="rotate(-90 486.5 292)">90</text>
<line x1="478" y1="245.4" x2="549" y2="245.4" stroke="#000" stroke-width="0.94"/>
<rect x="515" y="243.4" width="8" height="4" fill="#fff" stroke="none" stroke-width="0"/>
<text x="519" y="247" font-size="3.5" text-anchor="middle" fill="#333">337</text>
<line x1="496.8" y1="245" x2="496.8" y2="300" stroke="#000" stroke-width="0.94"/>
<line x1="494" y1="300" x2="499" y2="300" stroke="#000" stroke-width="1.06"/>
<text x="498" y="270" font-size="3" text-anchor="middle" fill="#444" transform="rotate(-90 498 270)">200</text>
<line x1="508.2" y1="245" x2="508.2" y2="420" stroke="#000" stroke-width="0.94"/>
<text x="509.4" y="308" font-size="3" text-anchor="middle" fill="#444" transform="rotate(-90 509.4 308)">650</text>
<line x1="550" y1="232" x2="556.5" y2="376" stroke="#111" stroke-width="1.18"/>
<line x1="560" y1="232" x2="567.5" y2="376" stroke="#222" stroke-width="0.94"/>
<rect x="535.9" y="271.2" width="29.6" height="21.4" fill="none" stroke="#777" stroke-width="0.83"/>
<rect x="537.3" y="264" width="12" height="11.7" rx="2" fill="none" stroke="#777" stroke-width="0.7"/>
<path d="M537.8 266 Q543.3 264.2 548.8 266" fill="none" stroke="#777" stroke-width="0.83"/>
<rect x="552.8" y="264" width="12.4" height="11.7" rx="2" fill="none" stroke="#777" stroke-width="0.7"/>
<path d="M553.3 266 Q559 264.2 564.7 266" fill="none" stroke="#777" stroke-width="0.83"/>
<rect x="537.3" y="287.8" width="12" height="11.7" rx="2" fill="none" stroke="#777" stroke-width="0.7"/>
<path d="M537.8 297.5 Q543.3 299.3 548.8 297.5" fill="none" stroke="#777" stroke-width="0.83"/>
<rect x="552.8" y="287.8" width="12.4" height="11.7" rx="2" fill="none" stroke="#777" stroke-width="0.7"/>
<path d="M553.3 297.5 Q559 299.3 564.7 297.5" fill="none" stroke="#777" stroke-width="0.83"/>
<path d="M544.4 310.6 L566 310.6 L569.2 368.7 L547.6 368.7 Z" fill="none" stroke="#444" stroke-width="1.06"/>
<line x1="549.6" y1="310.6" x2="552.8" y2="368.7" stroke="#777" stroke-width="0.83"/>
<path d="M564.66 323.79 L559.35 325.18 L556.3 328.33 L555.14 323.21 L551 320.12 L556.52 318.51 L559.61 316 L561.18 320.65 Z" fill="none" stroke="#666" stroke-width="0.94"/>
<path d="M565.73 342.8 L559.87 341.74 L555.44 343.44 L556.64 337.88 L553.99 332.95 L560.14 333.89 L564.32 332.85 L563.74 338.13 Z" fill="none" stroke="#666" stroke-width="0.94"/>
<path d="M567.8 358.2 L562.62 360.05 L559.86 363.46 L558.26 358.46 L553.87 355.74 L559.22 353.65 L562.08 350.88 L564.05 355.38 Z" fill="none" stroke="#666" stroke-width="0.94"/>
<text x="520" y="318.5" font-size="4.3" font-weight="bold" fill="#111">ДН</text>
<text x="520" y="324.5" font-size="3.2" fill="#333">20.66м2</text>
<circle cx="526.8" cy="352" r="9.5" fill="none" stroke="#777" stroke-width="0.94"/>
<line x1="466" y1="350.3" x2="545" y2="350.3" stroke="#000" stroke-width="1.06"/>
<line x1="477" y1="358.3" x2="570" y2="358.3" stroke="#000" stroke-width="1.06"/>
<line x1="481" y1="369.7" x2="545" y2="369.7" stroke="#000" stroke-width="0.94"/>
<rect x="518.5" y="348.3" width="7" height="4" fill="#fff" stroke="none" stroke-width="0"/>
<text x="522" y="351.7" font-size="3.3" text-anchor="middle" fill="#333">63</text>
<rect x="496.5" y="356.3" width="7" height="4" fill="#fff" stroke="none" stroke-width="0"/>
<text x="500" y="359.7" font-size="3.3" text-anchor="middle" fill="#333">380</text>
<rect x="554.5" y="356.3" width="7" height="4" fill="#fff" stroke="none" stroke-width="0"/>
<text x="558" y="359.7" font-size="3.3" text-anchor="middle" fill="#333">184</text>
<rect x="506.5" y="367.7" width="7" height="4" fill="#fff" stroke="none" stroke-width="0"/>
<text x="510" y="371.1" font-size="3.3" text-anchor="middle" fill="#333">231</text>
<text x="327" y="310.5" font-size="3.3" fill="#333">коридор</text>
<text x="327" y="316.3" font-size="3.5" fill="#333">5.41м2</text>
<line x1="321.3" y1="300" x2="321.3" y2="335" stroke="#000" stroke-width="0.94"/>
<line x1="266" y1="326.8" x2="463" y2="326.8" stroke="#000" stroke-width="1.06"/>
<rect x="271" y="324.8" width="8" height="4" fill="#fff" stroke="none" stroke-width="0"/>
<text x="275" y="328.3" font-size="3.5" text-anchor="middle" fill="#222">120</text>
<rect x="332.8" y="324.8" width="8" height="4" fill="#fff" stroke="none" stroke-width="0"/>
<text x="336.8" y="328.3" font-size="3.5" text-anchor="middle" fill="#222">415</text>
<rect x="447" y="324.8" width="8" height="4" fill="#fff" stroke="none" stroke-width="0"/>
<text x="451" y="328.3" font-size="3.5" text-anchor="middle" fill="#222">80</text>
<line x1="266" y1="324" x2="266" y2="329.5" stroke="#000" stroke-width="1.18"/>
<circle cx="270" cy="316" r="3.2" fill="#fff" stroke="#000" stroke-width="1.06"/>
<text x="270" y="317.4" font-size="3.6" text-anchor="middle" font-weight="bold">7</text>
<rect x="276" y="312.2" width="8.5" height="7" fill="#2a2a2a" stroke="none" stroke-width="0"/>
<line x1="276" y1="314.5" x2="284.5" y2="314.5" stroke="#ddd" stroke-width="0.59"/>
<line x1="276" y1="316.8" x2="284.5" y2="316.8" stroke="#ddd" stroke-width="0.59"/>
<line x1="280.2" y1="312.2" x2="280.2" y2="319.2" stroke="#ddd" stroke-width="0.71"/>
<line x1="267.8" y1="318.2" x2="272.2" y2="313.8" stroke="#000" stroke-width="0.83"/>
<text x="262" y="304.3" font-size="2.5" textLength="31" lengthAdjust="spacingAndGlyphs" fill="#555">ЩИТ.РЕЗ.ЕЛ.Диф.АСЕ</text>
<text x="262" y="309" font-size="2.5" textLength="23" lengthAdjust="spacingAndGlyphs" fill="#555">авт.вкл.в апарта</text>
<path d="M281 323.5 A23.5 23.5 0 0 1 257.5 300" fill="none" stroke="#555" stroke-width="0.83"/>
<text x="292" y="332.2" font-size="3" fill="#333">ап.3а</text>
<rect x="292.6" y="338.6" width="7.9" height="6.6" fill="#2a2a2a" stroke="none" stroke-width="0"/>
<line x1="296.5" y1="335" x2="296.5" y2="354" stroke="#000" stroke-width="0.83"/>
<line x1="292.6" y1="341" x2="300.5" y2="341" stroke="#ddd" stroke-width="0.59"/>
<line x1="292.6" y1="343.2" x2="300.5" y2="343.2" stroke="#ddd" stroke-width="0.59"/>
<circle cx="296.4" cy="349.7" r="3.2" fill="#444" stroke="#000" stroke-width="1.06"/>
<text x="296.4" y="351.1" font-size="3.4" text-anchor="middle" font-weight="bold" fill="#fff">8</text>
<line x1="289" y1="339" x2="289" y2="362.4" stroke="#555" stroke-width="0.83"/>
<path d="M312.4 339 A23.4 23.4 0 0 1 289 362.4" fill="none" stroke="#555" stroke-width="0.83"/>
<line x1="286" y1="358.5" x2="356" y2="358.5" stroke="#000" stroke-width="0.94"/>
<text x="293.5" y="360" font-size="3" text-anchor="middle" fill="#444">57</text>
<line x1="287" y1="358" x2="287" y2="400" stroke="#000" stroke-width="0.94"/>
<text x="288.3" y="380" font-size="3" text-anchor="middle" fill="#444" transform="rotate(-90 288.3 380)">200</text>
<text x="293" y="373" font-size="4" font-weight="bold" fill="#111">А</text>
<text x="299" y="378.5" font-size="3.2" fill="#333">5.08м2</text>
<line x1="327.4" y1="340" x2="327.4" y2="397" stroke="#333" stroke-width="0.83"/>
<rect x="352.2" y="339.5" width="3" height="21.2" fill="#000" stroke="#000" stroke-width="0.47"/>
<line x1="322" y1="346" x2="344" y2="346" stroke="#888" stroke-width="0.59"/>
<line x1="322" y1="348.5" x2="344" y2="348.5" stroke="#888" stroke-width="0.59"/>
<line x1="322" y1="351" x2="344" y2="351" stroke="#888" stroke-width="0.59"/>
<line x1="322" y1="353.5" x2="344" y2="353.5" stroke="#888" stroke-width="0.59"/>
<circle cx="338.4" cy="368.8" r="3.2" fill="#fff" stroke="#000" stroke-width="1.06"/>
<text x="338.4" y="370.2" font-size="3.6" text-anchor="middle" font-weight="bold">6</text>
<rect x="344.5" y="365.3" width="8.5" height="7" fill="#2a2a2a" stroke="none" stroke-width="0"/>
<line x1="344.5" y1="367.6" x2="353" y2="367.6" stroke="#ddd" stroke-width="0.59"/>
<line x1="344.5" y1="369.9" x2="353" y2="369.9" stroke="#ddd" stroke-width="0.59"/>
<line x1="348.7" y1="365.3" x2="348.7" y2="372.3" stroke="#ddd" stroke-width="0.71"/>
<rect x="332" y="356.5" width="8" height="4" fill="#fff" stroke="none" stroke-width="0"/>
<text x="336" y="360" font-size="3.2" text-anchor="middle" fill="#444">120</text>
<text x="332" y="385" font-size="4" fill="#222">BW</text>
<text x="335.5" y="390.3" font-size="3.2" fill="#333">2.70м2</text>
<ellipse cx="324.5" cy="368" rx="3.6" ry="4.6" fill="none" stroke="#777" stroke-width="0.8"/>
<rect x="319.5" y="362" width="3.5" height="12" fill="none" stroke="#777" stroke-width="0.83"/>
<rect x="320" y="343" width="6.5" height="13" fill="none" stroke="#777" stroke-width="0.83"/>
<rect x="352.6" y="300.5" width="13.8" height="5" fill="#fff" stroke="#333" stroke-width="0.83"/>
<text x="359.5" y="304.6" font-size="3" text-anchor="middle" fill="#333">ап.1</text>
<rect x="396" y="302" width="22" height="3.4" fill="#888" stroke="#555" stroke-width="0.59"/>
<line x1="418" y1="304.7" x2="465" y2="304.7" stroke="#000" stroke-width="0.94"/>
<text x="430" y="306" font-size="3.2" text-anchor="middle" fill="#444">285</text>
<text x="472" y="306" font-size="2.8" text-anchor="middle" fill="#444">12.5</text>
<rect x="385" y="309.5" width="5.6" height="13.8" fill="#fff" stroke="#333" stroke-width="0.94"/>
<rect x="386.5" y="312" width="2.5" height="9" fill="#999" stroke="none" stroke-width="0"/>
<line x1="393.3" y1="300" x2="393.3" y2="326.8" stroke="#444" stroke-width="0.83"/>
<circle cx="409.6" cy="314.7" r="3.2" fill="#fff" stroke="#000" stroke-width="1.06"/>
<text x="409.6" y="316.1" font-size="3.6" text-anchor="middle" font-weight="bold">2</text>
<rect x="396" y="311" width="8.5" height="7" fill="#2a2a2a" stroke="none" stroke-width="0"/>
<line x1="396" y1="313.3" x2="404.5" y2="313.3" stroke="#ddd" stroke-width="0.59"/>
<line x1="396" y1="315.6" x2="404.5" y2="315.6" stroke="#ddd" stroke-width="0.59"/>
<line x1="400.2" y1="311" x2="400.2" y2="318" stroke="#ddd" stroke-width="0.71"/>
<path d="M417.5 302 A23.5 23.5 0 0 1 394 325.5" fill="none" stroke="#555" stroke-width="0.83"/>
<line x1="418.9" y1="300" x2="418.9" y2="345" stroke="#666" stroke-width="0.71"/>
<text x="437.5" y="313" font-size="4" font-weight="bold" fill="#111">А</text>
<text x="436" y="319" font-size="3.2" fill="#333">3.69м2</text>
<circle cx="478.6" cy="314.7" r="3.2" fill="#fff" stroke="#000" stroke-width="1.06"/>
<text x="478.6" y="316.1" font-size="3.6" text-anchor="middle" font-weight="bold">4</text>
<rect x="464.5" y="311" width="8.5" height="7" fill="#2a2a2a" stroke="none" stroke-width="0"/>
<line x1="464.5" y1="313.3" x2="473" y2="313.3" stroke="#ddd" stroke-width="0.59"/>
<line x1="464.5" y1="315.6" x2="473" y2="315.6" stroke="#ddd" stroke-width="0.59"/>
<line x1="468.7" y1="311" x2="468.7" y2="318" stroke="#ddd" stroke-width="0.71"/>
<line x1="473" y1="314.7" x2="476" y2="314.7" stroke="#000" stroke-width="0.94"/>
<path d="M487.5 302 A22.5 22.5 0 0 1 465 324.5" fill="none" stroke="#555" stroke-width="0.83"/>
<rect x="361.6" y="328" width="13.8" height="5" fill="#fff" stroke="#333" stroke-width="0.83"/>
<text x="368.5" y="332" font-size="3" text-anchor="middle" fill="#333">ап.3</text>
<path d="M381.6 345 L381.6 334.3 L391.3 334.3" fill="none" stroke="#000" stroke-width="1.77"/>
<path d="M384 345 L384 337 L391.3 337" fill="none" stroke="#000" stroke-width="1.18"/>
<rect x="382.3" y="341.3" width="7.7" height="7" fill="#fff" stroke="#000" stroke-width="1.65"/>
<line x1="383.7" y1="349" x2="383.7" y2="385" stroke="#444" stroke-width="0.83"/>
<rect x="397" y="334.3" width="21" height="2.3" fill="#000" stroke="#000" stroke-width="0.47"/>
<circle cx="372.6" cy="350.2" r="3.2" fill="#fff" stroke="#000" stroke-width="1.06"/>
<text x="372.6" y="351.6" font-size="3.6" text-anchor="middle" font-weight="bold">8</text>
<rect x="368.5" y="339" width="8.5" height="7" fill="#2a2a2a" stroke="none" stroke-width="0"/>
<line x1="368.5" y1="341.3" x2="377" y2="341.3" stroke="#ddd" stroke-width="0.59"/>
<line x1="368.5" y1="343.6" x2="377" y2="343.6" stroke="#ddd" stroke-width="0.59"/>
<line x1="372.7" y1="339" x2="372.7" y2="346" stroke="#ddd" stroke-width="0.71"/>
<line x1="372.6" y1="346" x2="372.6" y2="354" stroke="#000" stroke-width="0.83"/>
<path d="M380.91 342 A23 23 0 0 1 360 362.91" fill="none" stroke="#555" stroke-width="0.83"/>
<rect x="369" y="356.5" width="8" height="4" fill="#fff" stroke="none" stroke-width="0"/>
<text x="373" y="360" font-size="3.2" text-anchor="middle" fill="#444">120</text>
<line x1="384" y1="358.5" x2="466" y2="358.5" stroke="#000" stroke-width="0.94"/>
<rect x="426" y="356.5" width="8" height="4" fill="#fff" stroke="none" stroke-width="0"/>
<text x="430" y="360" font-size="3.2" text-anchor="middle" fill="#444">150</text>
<text x="408" y="348" font-size="4" fill="#222">BW</text>
<text x="412.5" y="353" font-size="3.2" fill="#333">3.52м2</text>
<rect x="398.5" y="340.2" width="5.7" height="15" fill="none" stroke="#777" stroke-width="0.94"/>
<rect x="399.7" y="343" width="3.3" height="9" fill="none" stroke="#777" stroke-width="0.71"/>
<line x1="405.7" y1="337" x2="405.7" y2="376" stroke="#888" stroke-width="0.71"/>
<path d="M405 361 L410 361 A4.9 4.9 0 0 1 410 370.8 L405 370.8 Z" fill="none" stroke="#777" stroke-width="1.06"/>
<rect x="400.5" y="360" width="4.5" height="12" fill="none" stroke="#777" stroke-width="0.83"/>
<text x="418" y="369.5" font-size="2.4" textLength="17" lengthAdjust="spacingAndGlyphs" fill="#444">шахта.вент</text>
<text x="418" y="373.3" font-size="2.4" textLength="20" lengthAdjust="spacingAndGlyphs" fill="#444">отв.канал верт</text>
<circle cx="428.5" cy="350.2" r="3.2" fill="#fff" stroke="#000" stroke-width="1.06"/>
<text x="428.5" y="351.6" font-size="3.6" text-anchor="middle" font-weight="bold">6</text>
<rect x="424.3" y="337" width="8.5" height="7" fill="#2a2a2a" stroke="none" stroke-width="0"/>
<line x1="424.3" y1="339.3" x2="432.8" y2="339.3" stroke="#ddd" stroke-width="0.59"/>
<line x1="424.3" y1="341.6" x2="432.8" y2="341.6" stroke="#ddd" stroke-width="0.59"/>
<line x1="428.5" y1="337" x2="428.5" y2="344" stroke="#ddd" stroke-width="0.71"/>
<line x1="428.5" y1="344" x2="428.5" y2="354" stroke="#000" stroke-width="0.83"/>
<path d="M436.5 351.3 A17.8 17.8 0 0 1 418.7 333.5" fill="none" stroke="#555" stroke-width="0.83"/>
<path d="M438 333.5 L438 346.2 L464 346.2" fill="none" stroke="#000" stroke-width="2.01"/>
<path d="M441.5 326.4 L441.5 342.3 L464 342.3" fill="none" stroke="#000" stroke-width="1.53"/>
<line x1="436.4" y1="333.5" x2="436.4" y2="351.5" stroke="#000" stroke-width="1.53"/>
<rect x="444.5" y="334" width="2.8" height="9" fill="#888" stroke="#444" stroke-width="0.59"/>
<circle cx="446" cy="331.5" r="0.7" fill="#000" stroke="none" stroke-width="0"/>
<line x1="445.6" y1="347" x2="445.6" y2="378" stroke="#222" stroke-width="1.06"/>
<line x1="462.2" y1="347" x2="462.2" y2="371" stroke="#555" stroke-width="0.71"/>
<rect x="444.6" y="360.4" width="2" height="5.2" fill="#fff" stroke="#333" stroke-width="0.71"/>
<line x1="447" y1="363.5" x2="462" y2="363.5" stroke="#666" stroke-width="0.94"/>
<text x="451.5" y="352.5" font-size="3" text-anchor="middle" fill="#444">60</text>
<line x1="445.6" y1="354.3" x2="463" y2="354.3" stroke="#666" stroke-width="0.71"/>
<rect x="469" y="356.5" width="7" height="4" fill="#fff" stroke="none" stroke-width="0"/>
<text x="472.5" y="360" font-size="3.2" text-anchor="middle" fill="#444">112</text>
<line x1="466.3" y1="358.5" x2="486" y2="358.5" stroke="#000" stroke-width="0.94"/>
<text x="364" y="377" font-size="4" font-weight="bold" fill="#111">А</text>
<text x="357.5" y="382.3" font-size="3.2" fill="#333">9.49м2</text>
<rect x="228.7" y="398" width="18.4" height="27.3" fill="none" stroke="#777" stroke-width="1.06"/>
<line x1="228.7" y1="423.5" x2="247.1" y2="423.5" stroke="#777" stroke-width="0.83"/>
<line x1="245.5" y1="398" x2="245.5" y2="425" stroke="#999" stroke-width="0.71"/>
<circle cx="237" cy="421.8" r="0.9" fill="#555" stroke="none" stroke-width="0"/>
<text x="234" y="407.5" font-size="4" fill="#222">BW</text>
<text x="232" y="412.5" font-size="3.2" fill="#333">3.60м2</text>
<path d="M254.6 396 A7.2 11 0 0 0 269 396" fill="none" stroke="#777" stroke-width="0.94"/>
<path d="M257 396 A4.8 8 0 0 0 266.6 396" fill="none" stroke="#777" stroke-width="0.71"/>
<path d="M275.5 402 L284.5 402 L284 409 A4.3 5.5 0 0 1 276 409 Z" fill="none" stroke="#777" stroke-width="0.94"/>
<rect x="274.5" y="397.5" width="11" height="4.5" fill="none" stroke="#777" stroke-width="0.83"/>
<line x1="258.5" y1="395" x2="258.5" y2="435" stroke="#444" stroke-width="0.83"/>
<text x="259.7" y="417" font-size="3" text-anchor="middle" fill="#444" transform="rotate(-90 259.7 417)">135</text>
<line x1="295.7" y1="393" x2="295.7" y2="435" stroke="#000" stroke-width="0.94"/>
<circle cx="295.7" cy="393" r="0.8" fill="#000" stroke="none" stroke-width="0"/>
<text x="296.9" y="413" font-size="3" text-anchor="middle" fill="#444" transform="rotate(-90 296.9 413)">150</text>
<circle cx="276.8" cy="421.5" r="3.2" fill="#fff" stroke="#000" stroke-width="1.06"/>
<text x="276.8" y="422.9" font-size="3.6" text-anchor="middle" font-weight="bold">1</text>
<rect x="282.8" y="418" width="8.5" height="7" fill="#2a2a2a" stroke="none" stroke-width="0"/>
<line x1="282.8" y1="420.3" x2="291.3" y2="420.3" stroke="#ddd" stroke-width="0.59"/>
<line x1="282.8" y1="422.6" x2="291.3" y2="422.6" stroke="#ddd" stroke-width="0.59"/>
<line x1="287" y1="418" x2="287" y2="425" stroke="#ddd" stroke-width="0.71"/>
<line x1="280" y1="421.5" x2="294" y2="421.5" stroke="#000" stroke-width="0.94"/>
<path d="M272 429 A18 18 0 0 1 288.43 411.07" fill="none" stroke="#555" stroke-width="0.83"/>
<line x1="228" y1="429" x2="356" y2="429" stroke="#000" stroke-width="1.06"/>
<rect x="252.5" y="427" width="7" height="4" fill="#fff" stroke="none" stroke-width="0"/>
<text x="256" y="430.4" font-size="3.3" text-anchor="middle" fill="#333">90</text>
<rect x="299.5" y="427" width="7" height="4" fill="#fff" stroke="none" stroke-width="0"/>
<text x="303" y="430.4" font-size="3.3" text-anchor="middle" fill="#333">90</text>
<rect x="324.5" y="427" width="7" height="4" fill="#fff" stroke="none" stroke-width="0"/>
<text x="328" y="430.4" font-size="3.3" text-anchor="middle" fill="#333">110</text>
<circle cx="288.8" cy="429" r="0.9" fill="#000" stroke="none" stroke-width="0"/>
<circle cx="314.5" cy="429" r="0.9" fill="#000" stroke="none" stroke-width="0"/>
<rect x="288.2" y="427" width="2.8" height="8" fill="#000" stroke="#000" stroke-width="0.47"/>
<rect x="316.3" y="436" width="3" height="5" fill="#fff" stroke="#000" stroke-width="1.18"/>
<line x1="313" y1="408.5" x2="347" y2="408.5" stroke="#000" stroke-width="0.94"/>
<rect x="325" y="406.5" width="8" height="4" fill="#fff" stroke="none" stroke-width="0"/>
<text x="329" y="410" font-size="3.2" text-anchor="middle" fill="#444">124</text>
<line x1="340" y1="408" x2="340" y2="435" stroke="#000" stroke-width="0.94"/>
<text x="341.2" y="422" font-size="3" text-anchor="middle" fill="#444" transform="rotate(-90 341.2 422)">135</text>
<circle cx="330" cy="447" r="3.2" fill="#fff" stroke="#000" stroke-width="1.06"/>
<line x1="327.8" y1="447" x2="332.2" y2="447" stroke="#000" stroke-width="0.83"/>
<line x1="330" y1="444.8" x2="330" y2="447" stroke="#000" stroke-width="0.83"/>
<rect x="325.8" y="439.5" width="8.5" height="7" fill="#2a2a2a" stroke="none" stroke-width="0"/>
<line x1="325.8" y1="441.8" x2="334.3" y2="441.8" stroke="#ddd" stroke-width="0.59"/>
<line x1="325.8" y1="444.1" x2="334.3" y2="444.1" stroke="#ddd" stroke-width="0.59"/>
<line x1="330" y1="439.5" x2="330" y2="446.5" stroke="#ddd" stroke-width="0.71"/>
<text x="422" y="399.5" font-size="4" fill="#222">СП</text>
<text x="418" y="409.7" font-size="3.4" fill="#333">8.78м2</text>
<rect x="410.4" y="400.5" width="47.2" height="44.2" fill="none" stroke="#666" stroke-width="1.06"/>
<rect x="411.6" y="401.7" width="34.4" height="41.8" fill="none" stroke="#999" stroke-width="0.71"/>
<line x1="411" y1="422.3" x2="446" y2="422.3" stroke="#666" stroke-width="0.94"/>
<line x1="446.3" y1="400.5" x2="446.3" y2="444.7" stroke="#777" stroke-width="0.83"/>
<rect x="447.3" y="404" width="8.5" height="17" rx="1.5" fill="none" stroke="#777" stroke-width="0.7"/>
<rect x="447.3" y="424" width="8.5" height="17" rx="1.5" fill="none" stroke="#777" stroke-width="0.7"/>
<path d="M441 401 L441 405.5 L446 405.5" fill="none" stroke="#777" stroke-width="0.83"/>
<path d="M441 444.3 L441 439.8 L446 439.8" fill="none" stroke="#777" stroke-width="0.83"/>
<rect x="450.2" y="389.5" width="7.5" height="11" fill="none" stroke="#777" stroke-width="0.83"/>
<rect x="450.2" y="444.7" width="7.5" height="11.3" fill="none" stroke="#777" stroke-width="0.83"/>
<line x1="440.2" y1="388" x2="440.2" y2="462" stroke="#111" stroke-width="1.06"/>
<line x1="452" y1="388" x2="452" y2="400" stroke="#555" stroke-width="0.71"/>
<line x1="452" y1="445" x2="452" y2="458" stroke="#555" stroke-width="0.71"/>
<line x1="365" y1="429.1" x2="460.8" y2="429.1" stroke="#000" stroke-width="1.06"/>
<rect x="416" y="427.1" width="8" height="4" fill="#fff" stroke="none" stroke-width="0"/>
<text x="420" y="430.6" font-size="3.4" text-anchor="middle" fill="#333">303</text>
<line x1="373" y1="383" x2="373" y2="601" stroke="#000" stroke-width="0.94"/>
<text x="374.2" y="427" font-size="3" text-anchor="middle" fill="#444" transform="rotate(-90 374.2 427)">380</text>
<line x1="396.7" y1="411" x2="396.7" y2="462" stroke="#777" stroke-width="0.71"/>
<rect x="425.3" y="457.7" width="19.7" height="4.3" fill="none" stroke="#777" stroke-width="0.83"/>
<circle cx="391" cy="399.6" r="3.2" fill="#fff" stroke="#000" stroke-width="1.06"/>
<text x="391" y="401" font-size="3.6" text-anchor="middle" font-weight="bold">3</text>
<rect x="377" y="395.7" width="8.5" height="7" fill="#2a2a2a" stroke="none" stroke-width="0"/>
<line x1="377" y1="398" x2="385.5" y2="398" stroke="#ddd" stroke-width="0.59"/>
<line x1="377" y1="400.3" x2="385.5" y2="400.3" stroke="#ddd" stroke-width="0.59"/>
<line x1="381.2" y1="395.7" x2="381.2" y2="402.7" stroke="#ddd" stroke-width="0.71"/>
<line x1="385" y1="399.6" x2="397" y2="399.6" stroke="#000" stroke-width="0.94"/>
<line x1="381.3" y1="390.7" x2="400.4" y2="390.7" stroke="#444" stroke-width="0.94"/>
<path d="M400.8 390.5 A19.5 19.5 0 0 1 381.3 410" fill="none" stroke="#555" stroke-width="0.83"/>
<rect x="362" y="427.1" width="8" height="4" fill="#fff" stroke="none" stroke-width="0"/>
<text x="366" y="430.6" font-size="3.3" text-anchor="middle" fill="#333">100</text>
<line x1="480" y1="368.6" x2="541" y2="368.6" stroke="#444" stroke-width="0.71"/>
<line x1="487.3" y1="366" x2="487.3" y2="390.5" stroke="#000" stroke-width="0.94"/>
<text x="488.6" y="375" font-size="2.8" text-anchor="middle" fill="#444" transform="rotate(-90 488.6 375)">60</text>
<line x1="466" y1="389" x2="551" y2="389" stroke="#000" stroke-width="0.94"/>
<circle cx="487.3" cy="389" r="0.8" fill="#000" stroke="none" stroke-width="0"/>
<circle cx="487.3" cy="368.6" r="0.8" fill="#000" stroke="none" stroke-width="0"/>
<text x="485" y="400" font-size="4.2" fill="#222">Т</text>
<text x="484" y="407.3" font-size="3.4" fill="#333">5.33м2</text>
<text x="472" y="392.5" font-size="2.5" fill="#555">1%</text>
<text x="472" y="396.3" font-size="2.5" fill="#555">7.1м</text>
<text x="509.4" y="403" font-size="3" text-anchor="middle" fill="#444" transform="rotate(-90 509.4 403)">155</text>
<text x="513" y="411.5" font-size="2.8" text-anchor="middle" fill="#444">20</text>
<line x1="520.6" y1="378" x2="520.6" y2="409" stroke="#000" stroke-width="0.94"/>
<rect x="516.3" y="389" width="8.4" height="8.5" fill="#2a2a2a" stroke="none" stroke-width="0"/>
<line x1="516.3" y1="391.8" x2="524.7" y2="391.8" stroke="#ddd" stroke-width="0.59"/>
<line x1="516.3" y1="394.6" x2="524.7" y2="394.6" stroke="#ddd" stroke-width="0.59"/>
<line x1="520.5" y1="389" x2="520.5" y2="397.5" stroke="#ddd" stroke-width="0.71"/>
<circle cx="520.6" cy="403.4" r="3.2" fill="#444" stroke="#000" stroke-width="1.06"/>
<text x="520.6" y="404.8" font-size="3.4" text-anchor="middle" font-weight="bold" fill="#fff">5</text>
<path d="M520.5 381 A20.5 20.5 0 0 1 538.15 360.7" fill="none" stroke="#555" stroke-width="0.83"/>
<line x1="466" y1="410.3" x2="579.5" y2="410.3" stroke="#000" stroke-width="1.06"/>
<line x1="579.5" y1="395.6" x2="579.5" y2="411.8" stroke="#000" stroke-width="1.18"/>
<rect x="563.5" y="408.3" width="7" height="4" fill="#fff" stroke="none" stroke-width="0"/>
<text x="567" y="411.7" font-size="3.3" text-anchor="middle" fill="#333">80</text>
<circle cx="508.2" cy="410.3" r="0.8" fill="#000" stroke="none" stroke-width="0"/>
<circle cx="508.2" cy="418" r="0.8" fill="#000" stroke="none" stroke-width="0"/>
<circle cx="508.2" cy="389" r="0.8" fill="#000" stroke="none" stroke-width="0"/>
<text x="582" y="382.3" font-size="2.3" textLength="27" lengthAdjust="spacingAndGlyphs" fill="#555">Отв.климатик вътр.тяло</text>
<text x="582" y="384.7" font-size="2.3" textLength="22" lengthAdjust="spacingAndGlyphs" fill="#555">Отв.климатик вътр.</text>
<text x="582" y="387.1" font-size="2.3" textLength="17" lengthAdjust="spacingAndGlyphs" fill="#555">Отв.климатик в</text>
<line x1="595.5" y1="418.1" x2="617" y2="418.1" stroke="#000" stroke-width="0.94"/>
<rect x="470" y="431.3" width="8.4" height="7.6" fill="#2a2a2a" stroke="none" stroke-width="0"/>
<line x1="470" y1="433.8" x2="478.4" y2="433.8" stroke="#ddd" stroke-width="0.59"/>
<line x1="470" y1="436.3" x2="478.4" y2="436.3" stroke="#ddd" stroke-width="0.59"/>
<line x1="474.2" y1="431.3" x2="474.2" y2="439" stroke="#ddd" stroke-width="0.71"/>
<line x1="460" y1="434.7" x2="489.5" y2="434.7" stroke="#000" stroke-width="0.94"/>
<circle cx="485" cy="434.7" r="3.2" fill="#444" stroke="#000" stroke-width="1.06"/>
<text x="485" y="436.1" font-size="3.4" text-anchor="middle" font-weight="bold" fill="#fff">5</text>
<path d="M488.5 433 L491 434.7 L488.5 436.4 Z" fill="#000" stroke="#000" stroke-width="0.47"/>
<rect x="469.5" y="441" width="5.5" height="15.5" fill="none" stroke="#777" stroke-width="0.83"/>
<text x="470" y="460.3" font-size="2.3" textLength="27" lengthAdjust="spacingAndGlyphs" fill="#555">Отв.климатик външ.тяло</text>
<text x="470" y="462.6" font-size="2.3" textLength="21" lengthAdjust="spacingAndGlyphs" fill="#555">Отв.климатик външ</text>
<text x="470" y="464.9" font-size="2.3" textLength="15" lengthAdjust="spacingAndGlyphs" fill="#555">Отв.климатик</text>
<line x1="231" y1="449.7" x2="345" y2="449.7" stroke="#000" stroke-width="0.94"/>
<rect x="282" y="447.7" width="8" height="4" fill="#fff" stroke="none" stroke-width="0"/>
<text x="286" y="451.2" font-size="3.2" text-anchor="middle" fill="#444">413</text>
<rect x="266.3" y="444.2" width="13" height="12.3" rx="2" fill="none" stroke="#777" stroke-width="0.7"/>
<path d="M268.3 444.7 Q266.5 450.35 268.3 456" fill="none" stroke="#777" stroke-width="0.83"/>
<rect x="289.5" y="444.2" width="13" height="12.3" rx="2" fill="none" stroke="#777" stroke-width="0.7"/>
<path d="M300.5 444.7 Q302.3 450.35 300.5 456" fill="none" stroke="#777" stroke-width="0.83"/>
<rect x="266.3" y="460" width="13" height="12.3" rx="2" fill="none" stroke="#777" stroke-width="0.7"/>
<path d="M268.3 460.5 Q266.5 466.15 268.3 471.8" fill="none" stroke="#777" stroke-width="0.83"/>
<rect x="289.5" y="460" width="13" height="12.3" rx="2" fill="none" stroke="#777" stroke-width="0.7"/>
<path d="M300.5 460.5 Q302.3 466.15 300.5 471.8" fill="none" stroke="#777" stroke-width="0.83"/>
<path d="M274.5 444 L274.5 474.3 L294.3 474.3 L294.3 444" fill="none" stroke="#777" stroke-width="0.83"/>
<rect x="232.3" y="456.5" width="13.2" height="5.5" fill="none" stroke="#555" stroke-width="0.71"/>
<line x1="233.8" y1="456.5" x2="233.8" y2="462" stroke="#444" stroke-width="0.71"/>
<line x1="235.6" y1="456.5" x2="235.6" y2="462" stroke="#444" stroke-width="0.71"/>
<line x1="237.4" y1="456.5" x2="237.4" y2="462" stroke="#444" stroke-width="0.71"/>
<line x1="239.2" y1="456.5" x2="239.2" y2="462" stroke="#444" stroke-width="0.71"/>
<line x1="241" y1="456.5" x2="241" y2="462" stroke="#444" stroke-width="0.71"/>
<line x1="242.8" y1="456.5" x2="242.8" y2="462" stroke="#444" stroke-width="0.71"/>
<line x1="244.3" y1="456.5" x2="244.3" y2="462" stroke="#444" stroke-width="0.71"/>
<line x1="236" y1="465" x2="240" y2="464" stroke="#666" stroke-width="0.71"/>
<line x1="236" y1="467" x2="240" y2="466" stroke="#666" stroke-width="0.71"/>
<line x1="236" y1="469" x2="240" y2="468" stroke="#666" stroke-width="0.71"/>
<circle cx="243.2" cy="481" r="2.3" fill="none" stroke="#777" stroke-width="0.83"/>
<circle cx="237.8" cy="481.3" r="2.3" fill="none" stroke="#777" stroke-width="0.83"/>
<circle cx="238.3" cy="489" r="2.3" fill="none" stroke="#777" stroke-width="0.83"/>
<line x1="235" y1="475" x2="249" y2="475" stroke="#777" stroke-width="0.71"/>
<line x1="236" y1="495" x2="249" y2="495" stroke="#777" stroke-width="0.71"/>
<line x1="236.5" y1="504" x2="249" y2="504" stroke="#777" stroke-width="0.71"/>
<line x1="238" y1="521" x2="249" y2="521" stroke="#777" stroke-width="0.71"/>
<line x1="239" y1="540" x2="249" y2="540" stroke="#777" stroke-width="0.71"/>
<line x1="238.5" y1="513" x2="243.5" y2="513" stroke="#444" stroke-width="0.83"/>
<line x1="241" y1="510.5" x2="241" y2="515.5" stroke="#444" stroke-width="0.83"/>
<circle cx="330.5" cy="453" r="3.2" fill="#fff" stroke="#000" stroke-width="1.06"/>
<line x1="328.3" y1="453" x2="332.7" y2="453" stroke="#000" stroke-width="0.83"/>
<line x1="330.5" y1="450.8" x2="330.5" y2="453" stroke="#000" stroke-width="0.83"/>
<rect x="326.3" y="441.3" width="8.5" height="7" fill="#2a2a2a" stroke="none" stroke-width="0"/>
<line x1="326.3" y1="443.6" x2="334.8" y2="443.6" stroke="#ddd" stroke-width="0.59"/>
<line x1="326.3" y1="445.9" x2="334.8" y2="445.9" stroke="#ddd" stroke-width="0.59"/>
<line x1="330.5" y1="441.3" x2="330.5" y2="448.3" stroke="#ddd" stroke-width="0.71"/>
<circle cx="330.5" cy="453" r="3.2" fill="#444" stroke="#000" stroke-width="1.06"/>
<path d="M329 452 L332 452 L330.5 454.5 Z" fill="#fff" stroke="none" stroke-width="0"/>
<path d="M342.86 466.11 A24.5 24.5 0 0 1 320.59 443.84" fill="none" stroke="#555" stroke-width="0.83"/>
<line x1="340" y1="446" x2="340" y2="585" stroke="#555" stroke-width="0.71"/>
<text x="257" y="524" font-size="4.3" font-weight="bold" fill="#111">ДН</text>
<text x="256" y="530" font-size="3.3" fill="#333">22.96м2</text>
<circle cx="309.5" cy="533" r="9.4" fill="none" stroke="#777" stroke-width="0.94"/>
<rect x="321.3" y="504.4" width="23.4" height="60.1" fill="none" stroke="#444" stroke-width="1.06"/>
<line x1="339.5" y1="504.4" x2="339.5" y2="564.5" stroke="#777" stroke-width="0.83"/>
<path d="M337.56 515.75 L331.24 516.83 L327.38 520.19 L326.55 514.12 L322.06 510.11 L328.63 508.79 L332.48 506.19 L333.83 511.76 Z" fill="none" stroke="#666" stroke-width="0.94"/>
<path d="M337.44 537.29 L332.28 535.37 L327.98 536.21 L329.96 531.35 L328.34 526.45 L333.79 528.29 L337.76 528.01 L336.37 532.72 Z" fill="none" stroke="#666" stroke-width="0.94"/>
<path d="M339.02 552.7 L333.19 555.38 L330.33 559.62 L327.96 553.97 L322.58 551.26 L328.59 548.29 L331.63 544.78 L334.38 549.81 Z" fill="none" stroke="#666" stroke-width="0.94"/>
<line x1="238" y1="552.5" x2="345" y2="552.5" stroke="#000" stroke-width="1.06"/>
<rect x="287" y="550.5" width="8" height="4" fill="#fff" stroke="none" stroke-width="0"/>
<text x="291" y="554" font-size="3.3" text-anchor="middle" fill="#333">419</text>
<line x1="238" y1="559" x2="378" y2="559" stroke="#000" stroke-width="1.06"/>
<rect x="279" y="557" width="8" height="4" fill="#fff" stroke="none" stroke-width="0"/>
<text x="283" y="560.5" font-size="3.3" text-anchor="middle" fill="#333">100</text>
<text x="330" y="560.5" font-size="3" text-anchor="middle" fill="#555">169</text>
<line x1="304.8" y1="559" x2="304.8" y2="566.5" stroke="#000" stroke-width="1.06"/>
<line x1="308.7" y1="559" x2="308.7" y2="566.5" stroke="#000" stroke-width="1.06"/>
<line x1="313.4" y1="559" x2="313.4" y2="566.5" stroke="#000" stroke-width="1.06"/>
<line x1="263.4" y1="559" x2="263.4" y2="578" stroke="#666" stroke-width="0.83"/>
<path d="M263.4 559.5 A19.5 19.5 0 0 1 282.71 576.29" fill="none" stroke="#555" stroke-width="0.83"/>
<circle cx="249.2" cy="559" r="0.8" fill="#000" stroke="none" stroke-width="0"/>
<circle cx="263.4" cy="559" r="0.8" fill="#000" stroke="none" stroke-width="0"/>
<text x="291" y="597" font-size="4.2" fill="#222">Т</text>
<text x="290" y="603" font-size="3.4" fill="#333">2.08м2</text>
<text x="322.5" y="598" font-size="4.2" fill="#222">Т</text>
<text x="322" y="604" font-size="3.4" fill="#333">1.85м2</text>
<line x1="283" y1="573" x2="283" y2="604" stroke="#000" stroke-width="1.06"/>
<rect x="279" y="584.8" width="8.5" height="8.3" fill="#2a2a2a" stroke="none" stroke-width="0"/>
<line x1="279" y1="587.5" x2="287.5" y2="587.5" stroke="#ddd" stroke-width="0.59"/>
<line x1="279" y1="590.3" x2="287.5" y2="590.3" stroke="#ddd" stroke-width="0.59"/>
<line x1="283.2" y1="584.8" x2="283.2" y2="593" stroke="#ddd" stroke-width="0.71"/>
<circle cx="283" cy="599" r="3.2" fill="#fff" stroke="#000" stroke-width="1.06"/>
<circle cx="283" cy="599" r="0.8" fill="#000" stroke="none" stroke-width="0"/>
<line x1="268.6" y1="581" x2="268.6" y2="617.6" stroke="#000" stroke-width="0.94"/>
<text x="269.9" y="600" font-size="3" text-anchor="middle" fill="#444" transform="rotate(-90 269.9 600)">155</text>
<circle cx="268.6" cy="587.5" r="0.8" fill="#000" stroke="none" stroke-width="0"/>
<line x1="256" y1="609.4" x2="356" y2="609.4" stroke="#000" stroke-width="1.06"/>
<rect x="279" y="607.4" width="8" height="4" fill="#fff" stroke="none" stroke-width="0"/>
<text x="283" y="610.9" font-size="3.3" text-anchor="middle" fill="#333">179</text>
<rect x="322" y="607.4" width="8" height="4" fill="#fff" stroke="none" stroke-width="0"/>
<text x="326" y="610.9" font-size="3.3" text-anchor="middle" fill="#333">124</text>
<line x1="317.3" y1="575" x2="317.3" y2="625" stroke="#000" stroke-width="0.94"/>
<text x="318.6" y="603" font-size="3" text-anchor="middle" fill="#444" transform="rotate(-90 318.6 603)">186</text>
<rect x="342.3" y="597.3" width="8" height="7.3" fill="#2a2a2a" stroke="none" stroke-width="0"/>
<line x1="342.3" y1="599.7" x2="350.3" y2="599.7" stroke="#ddd" stroke-width="0.59"/>
<line x1="342.3" y1="602.2" x2="350.3" y2="602.2" stroke="#ddd" stroke-width="0.59"/>
<line x1="338" y1="601.3" x2="352" y2="601.3" stroke="#000" stroke-width="0.94"/>
<circle cx="355.6" cy="601.3" r="3.2" fill="#444" stroke="#000" stroke-width="1.06"/>
<text x="355.6" y="602.7" font-size="3.4" text-anchor="middle" font-weight="bold" fill="#fff">9</text>
<path d="M353.15 593.51 A18.5 18.5 0 0 1 370.93 610.39" fill="none" stroke="#555" stroke-width="0.83"/>
<rect x="357.3" y="458.6" width="8" height="6.3" fill="#2a2a2a" stroke="none" stroke-width="0"/>
<line x1="361" y1="454" x2="361" y2="468" stroke="#000" stroke-width="0.94"/>
<line x1="357.3" y1="460.7" x2="365.3" y2="460.7" stroke="#ddd" stroke-width="0.59"/>
<line x1="357.3" y1="462.7" x2="365.3" y2="462.7" stroke="#ddd" stroke-width="0.59"/>
<circle cx="361.3" cy="470.8" r="3.2" fill="#fff" stroke="#000" stroke-width="1.06"/>
<circle cx="361.3" cy="470.8" r="0.8" fill="#000" stroke="none" stroke-width="0"/>
<text x="374.5" y="543" font-size="3" text-anchor="middle" fill="#444" transform="rotate(-90 374.5 543)">380</text>
<rect x="352.8" y="494.5" width="10.2" height="41.5" fill="none" stroke="#777" stroke-width="0.94"/>
<line x1="355.2" y1="502" x2="355.2" y2="528" stroke="#777" stroke-width="0.94"/>
<line x1="356.5" y1="502" x2="356.5" y2="528" stroke="#aaa" stroke-width="0.59"/>
<rect x="390" y="466" width="20.6" height="5.5" fill="none" stroke="#777" stroke-width="0.83"/>
<line x1="440.3" y1="466" x2="440.3" y2="578.4" stroke="#000" stroke-width="1.06"/>
<rect x="444.5" y="479.3" width="14.8" height="92.7" fill="none" stroke="#777" stroke-width="0.83"/>
<line x1="444.5" y1="495.5" x2="459.3" y2="495.5" stroke="#777" stroke-width="0.83"/>
<line x1="444.5" y1="507" x2="459.3" y2="507" stroke="#777" stroke-width="0.83"/>
<line x1="444.5" y1="522" x2="459.3" y2="522" stroke="#777" stroke-width="0.83"/>
<line x1="444.5" y1="538" x2="459.3" y2="538" stroke="#777" stroke-width="0.83"/>
<line x1="444.5" y1="560" x2="459.3" y2="560" stroke="#777" stroke-width="0.83"/>
<circle cx="449.6" cy="484.3" r="2.2" fill="none" stroke="#777" stroke-width="0.83"/>
<circle cx="455.2" cy="484.3" r="2.2" fill="none" stroke="#777" stroke-width="0.83"/>
<circle cx="450" cy="490.6" r="2.2" fill="none" stroke="#777" stroke-width="0.83"/>
<line x1="449.5" y1="515" x2="454.5" y2="515" stroke="#333" stroke-width="0.94"/>
<line x1="452" y1="512.5" x2="452" y2="517.5" stroke="#333" stroke-width="0.94"/>
<text x="452" y="551.8" font-size="2.5" text-anchor="middle" font-weight="bold" fill="#222">90/5</text>
<rect x="445.3" y="553" width="13.3" height="7" fill="#555" stroke="#333" stroke-width="0.59"/>
<line x1="446.8" y1="553" x2="446.8" y2="560" stroke="#ddd" stroke-width="0.59"/>
<line x1="448.6" y1="553" x2="448.6" y2="560" stroke="#ddd" stroke-width="0.59"/>
<line x1="450.4" y1="553" x2="450.4" y2="560" stroke="#ddd" stroke-width="0.59"/>
<line x1="452.2" y1="553" x2="452.2" y2="560" stroke="#ddd" stroke-width="0.59"/>
<line x1="454" y1="553" x2="454" y2="560" stroke="#ddd" stroke-width="0.59"/>
<line x1="455.8" y1="553" x2="455.8" y2="560" stroke="#ddd" stroke-width="0.59"/>
<line x1="457.3" y1="553" x2="457.3" y2="560" stroke="#ddd" stroke-width="0.59"/>
<rect x="446.3" y="563" width="11.7" height="8" fill="none" stroke="#777" stroke-width="0.83"/>
<text x="392" y="504.8" font-size="4.3" fill="#111">ДН</text>
<text x="392" y="510.3" font-size="3.2" fill="#333">22.85м2</text>
<rect x="395.4" y="524.2" width="13" height="12.4" rx="2" fill="none" stroke="#777" stroke-width="0.7"/>
<path d="M397.4 524.7 Q395.6 530.4 397.4 536.1" fill="none" stroke="#777" stroke-width="0.83"/>
<rect x="419" y="524.2" width="13" height="12.4" rx="2" fill="none" stroke="#777" stroke-width="0.7"/>
<path d="M430 524.7 Q431.8 530.4 430 536.1" fill="none" stroke="#777" stroke-width="0.83"/>
<rect x="395.4" y="540" width="13" height="12.4" rx="2" fill="none" stroke="#777" stroke-width="0.7"/>
<path d="M397.4 540.5 Q395.6 546.2 397.4 551.9" fill="none" stroke="#777" stroke-width="0.83"/>
<rect x="419" y="540" width="13" height="12.4" rx="2" fill="none" stroke="#777" stroke-width="0.7"/>
<path d="M430 540.5 Q431.8 546.2 430 551.9" fill="none" stroke="#777" stroke-width="0.83"/>
<rect x="403.7" y="522.9" width="20.7" height="31.1" fill="none" stroke="#777" stroke-width="0.83"/>
<text x="441.6" y="523" font-size="3" text-anchor="middle" fill="#444" transform="rotate(-90 441.6 523)">613</text>
<line x1="352" y1="559.5" x2="470" y2="559.5" stroke="#000" stroke-width="1.06"/>
<rect x="403" y="557.5" width="8" height="4" fill="#fff" stroke="none" stroke-width="0"/>
<text x="407" y="561" font-size="3.3" text-anchor="middle" fill="#333">419</text>
<circle cx="469.3" cy="559.5" r="0.9" fill="#000" stroke="none" stroke-width="0"/>
<line x1="352" y1="568" x2="436" y2="568" stroke="#000" stroke-width="1.06"/>
<rect x="390" y="566" width="8" height="4" fill="#fff" stroke="none" stroke-width="0"/>
<text x="394" y="569.5" font-size="3.3" text-anchor="middle" fill="#333">392</text>
<circle cx="406" cy="580.5" r="9.4" fill="none" stroke="#777" stroke-width="0.94"/>
<rect x="374" y="592.2" width="60.2" height="24.6" fill="none" stroke="#333" stroke-width="1.06"/>
<line x1="379" y1="592.2" x2="379" y2="616.8" stroke="#777" stroke-width="0.83"/>
<path d="M400.89 605.38 L393.8 607.23 L389.74 611.44 L388.19 604.62 L382.67 600.5 L390.02 598.34 L394.14 595 L396.23 601.2 Z" fill="none" stroke="#666" stroke-width="0.94"/>
<path d="M407.29 610.44 L401.88 609.45 L397.79 611.02 L398.9 605.89 L396.45 601.34 L402.13 602.21 L405.99 601.24 L405.45 606.12 Z" fill="none" stroke="#666" stroke-width="0.94"/>
<path d="M430.16 600.8 L423.51 603.86 L420.24 608.71 L417.53 602.25 L411.38 599.16 L418.24 595.76 L421.72 591.75 L424.86 597.49 Z" fill="none" stroke="#666" stroke-width="0.94"/>
<line x1="355" y1="608.8" x2="425" y2="608.8" stroke="#000" stroke-width="1.18"/>
<circle cx="374" cy="616.8" r="0.9" fill="#000" stroke="none" stroke-width="0"/>
<text x="386" y="610.3" font-size="3" text-anchor="middle" fill="#444">270</text>
<line x1="391.4" y1="609" x2="391.4" y2="645" stroke="#000" stroke-width="1.06"/>
<rect x="387.3" y="627" width="8.3" height="8.7" fill="#2a2a2a" stroke="none" stroke-width="0"/>
<line x1="387.3" y1="629.8" x2="395.6" y2="629.8" stroke="#ddd" stroke-width="0.59"/>
<line x1="387.3" y1="632.7" x2="395.6" y2="632.7" stroke="#ddd" stroke-width="0.59"/>
<line x1="391.4" y1="627" x2="391.4" y2="635.7" stroke="#ddd" stroke-width="0.71"/>
<circle cx="391.4" cy="641.5" r="3.2" fill="#fff" stroke="#000" stroke-width="1.06"/>
<circle cx="391.4" cy="641.5" r="0.8" fill="#000" stroke="none" stroke-width="0"/>
<text x="432.5" y="598" font-size="2.8" text-anchor="middle" fill="#444" transform="rotate(-90 432.5 598)">247</text>
<text x="242.5" y="350" font-size="3" textLength="16" lengthAdjust="spacingAndGlyphs" fill="#555" transform="rotate(-90 242.5 350)">1100x1400</text>
<text x="227.5" y="357.5" font-size="2.7" textLength="13" lengthAdjust="spacingAndGlyphs" fill="#444">асансьор</text>
<text x="227.5" y="362" font-size="2.7" textLength="27" lengthAdjust="spacingAndGlyphs" fill="#444">товаро-пътнически</text>
<text x="227.5" y="366" font-size="2.7" textLength="19" lengthAdjust="spacingAndGlyphs" fill="#444">кабина 1100</text>
<text x="227.5" y="370" font-size="2.7" textLength="20" lengthAdjust="spacingAndGlyphs" fill="#444">без машинно</text>
<line x1="224.2" y1="377.3" x2="266.7" y2="377.3" stroke="#000" stroke-width="0.94"/>
<rect x="242" y="375.3" width="8" height="4" fill="#fff" stroke="none" stroke-width="0"/>
<text x="246" y="378.8" font-size="3.2" text-anchor="middle" fill="#444">160</text>
<text x="259.8" y="365" font-size="3" text-anchor="middle" fill="#444" transform="rotate(-90 259.8 365)">180</text>
<text x="244" y="318" font-size="2.6" textLength="16" lengthAdjust="spacingAndGlyphs" fill="#666" transform="rotate(-86 244 318)">приемат.ВиК</text>
<line x1="386" y1="183" x2="386" y2="210" stroke="#999" stroke-width="1.42"/>
<line x1="384" y1="175" x2="384" y2="215" stroke="#aaa" stroke-width="0.59"/>
<text x="737.5" y="34.3" font-size="3.6" textLength="72" lengthAdjust="spacingAndGlyphs" fill="#333">ТАБЛИЦА ЗА ДОВЪРШИТЕЛНИТЕ РАБОТИ</text>
<rect x="737.5" y="38.8" width="144.1" height="83.4" fill="none" stroke="#000" stroke-width="1.06"/>
<line x1="737.5" y1="48.5" x2="881.6" y2="48.5" stroke="#000" stroke-width="1.06"/>
<line x1="737.5" y1="56.5" x2="881.6" y2="56.5" stroke="#000" stroke-width="1.06"/>
<line x1="737.5" y1="63.7" x2="881.6" y2="63.7" stroke="#000" stroke-width="1.06"/>
<line x1="737.5" y1="71.2" x2="881.6" y2="71.2" stroke="#000" stroke-width="1.06"/>
<line x1="737.5" y1="78.7" x2="881.6" y2="78.7" stroke="#000" stroke-width="1.06"/>
<line x1="737.5" y1="88.7" x2="881.6" y2="88.7" stroke="#000" stroke-width="1.06"/>
<line x1="737.5" y1="96.5" x2="881.6" y2="96.5" stroke="#000" stroke-width="1.06"/>
<line x1="737.5" y1="104.2" x2="881.6" y2="104.2" stroke="#000" stroke-width="0.94"/>
<line x1="737.5" y1="49.6" x2="881.6" y2="49.6" stroke="#555" stroke-width="0.59"/>
<line x1="737.5" y1="57.5" x2="881.6" y2="57.5" stroke="#555" stroke-width="0.59"/>
<line x1="737.5" y1="64.7" x2="881.6" y2="64.7" stroke="#555" stroke-width="0.59"/>
<line x1="737.5" y1="72.2" x2="881.6" y2="72.2" stroke="#555" stroke-width="0.59"/>
<line x1="737.5" y1="89.7" x2="881.6" y2="89.7" stroke="#555" stroke-width="0.59"/>
<line x1="737.5" y1="97.5" x2="881.6" y2="97.5" stroke="#555" stroke-width="0.59"/>
<line x1="775.5" y1="38.8" x2="775.5" y2="122.2" stroke="#000" stroke-width="1.06"/>
<line x1="801.5" y1="38.8" x2="801.5" y2="107.5" stroke="#000" stroke-width="1.06"/>
<line x1="842.5" y1="38.8" x2="842.5" y2="122.2" stroke="#000" stroke-width="1.06"/>
<text x="739.7" y="46.5" font-size="3.2" fill="#222">ПОМЕЩЕНИЕ</text>
<text x="777.7" y="46.5" font-size="3.2" fill="#222">ПОД</text>
<text x="803.7" y="46.5" font-size="3.2" fill="#222">СТЕНИ</text>
<text x="844.7" y="46.5" font-size="3.2" fill="#222">ТАВАН</text>
<text x="741" y="54" font-size="3.1" textLength="12.6" lengthAdjust="spacingAndGlyphs" fill="#222">СПАЛНЯ</text>
<text x="777.5" y="54" font-size="2.9" textLength="18" lengthAdjust="spacingAndGlyphs" fill="#222">ламиниран</text>
<text x="806.5" y="54" font-size="2.9" textLength="28" lengthAdjust="spacingAndGlyphs" fill="#222">латекс по гипс.маз.</text>
<text x="847.5" y="54" font-size="2.9" textLength="28" lengthAdjust="spacingAndGlyphs" fill="#222">латекс по гипс.маз.</text>
<text x="741" y="61.5" font-size="3.1" textLength="12.6" lengthAdjust="spacingAndGlyphs" fill="#222">ДНЕВНА</text>
<text x="777.5" y="61.5" font-size="2.9" textLength="18" lengthAdjust="spacingAndGlyphs" fill="#222">ламиниран</text>
<text x="806.5" y="61.5" font-size="2.9" textLength="28" lengthAdjust="spacingAndGlyphs" fill="#222">латекс по гипс.маз.</text>
<text x="847.5" y="61.5" font-size="2.9" textLength="28" lengthAdjust="spacingAndGlyphs" fill="#222">латекс по гипс.маз.</text>
<text x="741" y="68.7" font-size="3.1" textLength="16.8" lengthAdjust="spacingAndGlyphs" fill="#222">ТОАЛЕТНА</text>
<text x="777.5" y="68.7" font-size="2.9" textLength="18" lengthAdjust="spacingAndGlyphs" fill="#222">гранитогрес</text>
<text x="806.5" y="68.7" font-size="2.9" textLength="28" lengthAdjust="spacingAndGlyphs" fill="#222">фаянс по гипс.маз.</text>
<text x="847.5" y="68.7" font-size="2.9" textLength="28" lengthAdjust="spacingAndGlyphs" fill="#222">латекс по гипс.маз.</text>
<text x="741" y="76" font-size="3.1" textLength="18.9" lengthAdjust="spacingAndGlyphs" fill="#222">ПРЕДВЕРИЕ</text>
<text x="777.5" y="76" font-size="2.9" textLength="18" lengthAdjust="spacingAndGlyphs" fill="#222">гранитогрес</text>
<text x="806.5" y="76" font-size="2.9" textLength="28" lengthAdjust="spacingAndGlyphs" fill="#222">латекс по гипс.маз.</text>
<text x="847.5" y="76" font-size="2.9" textLength="28" lengthAdjust="spacingAndGlyphs" fill="#222">латекс по гипс.маз.</text>
<text x="741" y="83" font-size="3.1" textLength="8.4" lengthAdjust="spacingAndGlyphs" fill="#222">БАНЯ</text>
<text x="777.5" y="83" font-size="2.9" textLength="18" lengthAdjust="spacingAndGlyphs" fill="#222">теракота</text>
<text x="806.5" y="83" font-size="2.9" textLength="20" lengthAdjust="spacingAndGlyphs" fill="#222">фаянс+латекс</text>
<text x="847.5" y="83" font-size="2.9" textLength="16" lengthAdjust="spacingAndGlyphs" fill="#222">латексово</text>
<text x="741" y="94" font-size="3.1" textLength="16.8" lengthAdjust="spacingAndGlyphs" fill="#222">СТЪЛБИЩЕ</text>
<text x="777.5" y="94" font-size="2.9" textLength="18" lengthAdjust="spacingAndGlyphs" fill="#222">мозайка 2</text>
<text x="806.5" y="94" font-size="2.9" textLength="28" lengthAdjust="spacingAndGlyphs" fill="#222">латекс по гипс.маз.</text>
<text x="847.5" y="94" font-size="2.9" textLength="28" lengthAdjust="spacingAndGlyphs" fill="#222">латекс по гипс.маз.</text>
<text x="741" y="101.5" font-size="3.1" textLength="14.7" lengthAdjust="spacingAndGlyphs" fill="#222">КОРИДОР</text>
<text x="777.5" y="101.5" font-size="2.9" textLength="18" lengthAdjust="spacingAndGlyphs" fill="#222">гранитогрес</text>
<text x="806.5" y="101.5" font-size="2.9" textLength="28" lengthAdjust="spacingAndGlyphs" fill="#222">латекс по гипс.маз.</text>
<text x="847.5" y="101.5" font-size="2.9" textLength="28" lengthAdjust="spacingAndGlyphs" fill="#222">латекс по гипс.маз.</text>
<text x="741" y="109" font-size="3.1" textLength="12.6" lengthAdjust="spacingAndGlyphs" fill="#222">ТЕРАСИ</text>
<text x="777.5" y="109" font-size="2.9" textLength="18" lengthAdjust="spacingAndGlyphs" fill="#222">гранитогрес</text>
<text x="806.5" y="109" font-size="2.9" textLength="28" lengthAdjust="spacingAndGlyphs" fill="#222">мин.мазилка-цвят</text>
<text x="847.5" y="109" font-size="2.9" textLength="28" lengthAdjust="spacingAndGlyphs" fill="#222">мин.мазилка-цвят</text>
<text x="777.5" y="87.3" font-size="2.7" textLength="22" lengthAdjust="spacingAndGlyphs" fill="#222">на водоуст.цимент</text>
<text x="813.5" y="87.3" font-size="2.7" textLength="14" lengthAdjust="spacingAndGlyphs" fill="#222">РУСТИК-ФОР</text>
<text x="777.5" y="113" font-size="2.7" textLength="13" lengthAdjust="spacingAndGlyphs" fill="#222">за водоуст.</text>
<text x="777.5" y="117" font-size="2.7" textLength="20" lengthAdjust="spacingAndGlyphs" fill="#222">обезпеч.цимент</text>
<text x="777.5" y="121" font-size="2.7" textLength="34" lengthAdjust="spacingAndGlyphs" fill="#222">външна мразоуст.плоч.</text>
<rect x="739.5" y="126" width="17" height="5.6" fill="#fff" stroke="#000" stroke-width="0.94"/>
<rect x="739.8" y="126.3" width="16.4" height="2.7" fill="#000" stroke="none" stroke-width="0"/>
<text x="759.5" y="131" font-size="3.2" textLength="51" lengthAdjust="spacingAndGlyphs" fill="#222">външно тяло на климатик</text>
<rect x="739.5" y="135" width="21" height="6.3" fill="#fff" stroke="#333" stroke-width="0.94"/>
<text x="763" y="140" font-size="3.2" textLength="55" lengthAdjust="spacingAndGlyphs" fill="#222">вътрешно тяло на климатик</text>
<text x="726.7" y="153" font-size="4.1" textLength="110" lengthAdjust="spacingAndGlyphs" fill="#222">УКАЗАНИЯ ЗА ИЗПЪЛНЕНИЕ НА СТРОИТЕЛСТВОТО:</text>
<text x="727" y="158" font-size="4.25" textLength="105.5" lengthAdjust="spacingAndGlyphs" fill="#222" stroke="#222" stroke-width="0.18">1.Промени в процеса на строителството когато да се</text>
<text x="730" y="162" font-size="4.25" textLength="105" lengthAdjust="spacingAndGlyphs" fill="#222" stroke="#222" stroke-width="0.18">извършват само след съгласуване с проектантите и</text>
<text x="730" y="166" font-size="4.25" textLength="149" lengthAdjust="spacingAndGlyphs" fill="#222" stroke="#222" stroke-width="0.18">одобрение от Инвеститора и отразяване в Заповедната книга на обекта.</text>
<text x="727" y="171.5" font-size="4.25" textLength="94" lengthAdjust="spacingAndGlyphs" fill="#222" stroke="#222" stroke-width="0.18">2.Всички мерки в чертежите са зидарски размери.</text>
<text x="727" y="175.5" font-size="4.25" textLength="122" lengthAdjust="spacingAndGlyphs" fill="#222" stroke="#222" stroke-width="0.18">3.Отворите на ВК,ВЗ и ОВ инцес.да се заверят от проектите в</text>
<text x="730" y="179.5" font-size="4.25" textLength="156" lengthAdjust="spacingAndGlyphs" fill="#222" stroke="#222" stroke-width="0.18">съответните части.Замонолитването на щрангите да става след приемане</text>
<text x="727" y="184" font-size="4.25" textLength="154.5" lengthAdjust="spacingAndGlyphs" fill="#222" stroke="#222" stroke-width="0.18">4.За всички стоманобетонни  работи да се гледат конструктивните планове.</text>
<text x="730" y="187.8" font-size="4.25" textLength="129.7" lengthAdjust="spacingAndGlyphs" fill="#222" stroke="#222" stroke-width="0.18">Позирани от Е. външни елементи се предхожда топлоизолация.</text>
<text x="727" y="193" font-size="4.25" textLength="146.8" lengthAdjust="spacingAndGlyphs" fill="#222" stroke="#222" stroke-width="0.18">5.При изпълнение на подовите настилки да се спазват дадените кличия</text>
<text x="730" y="197" font-size="4.25" textLength="109.5" lengthAdjust="spacingAndGlyphs" fill="#222" stroke="#222" stroke-width="0.18">за да се получи светлата височина на помещенията.</text>
<text x="727" y="203" font-size="4.25" textLength="142" lengthAdjust="spacingAndGlyphs" fill="#222" stroke="#222" stroke-width="0.18">7.Вътрешните стени с деб.12см. да се зидат с тухли БДС 626-79/уни;</text>
<text x="730" y="207" font-size="4.25" textLength="90" lengthAdjust="spacingAndGlyphs" fill="#222" stroke="#222" stroke-width="0.18">врати и задължително за мокри помещения.</text>
<text x="727" y="212" font-size="4.25" textLength="152" lengthAdjust="spacingAndGlyphs" fill="#222" stroke="#222" stroke-width="0.18">8.Всички тръби на външен зид да се поставят в топлоизолационен кожух.</text>
<text x="727" y="216" font-size="4.25" textLength="139" lengthAdjust="spacingAndGlyphs" fill="#222" stroke="#222" stroke-width="0.18">9.За зида на парапетите на тераси и стълби да се гледат детайлите,</text>
<text x="730" y="219.8" font-size="4.25" textLength="131.5" lengthAdjust="spacingAndGlyphs" fill="#222" stroke="#222" stroke-width="0.18">като й задължителна височина на парапета от готов под е 105см.</text>
<text x="726" y="224" font-size="4.25" textLength="155.7" lengthAdjust="spacingAndGlyphs" fill="#222" stroke="#222" stroke-width="0.18">10.При оформяне на отворите за дограмата да се монтират закладните части</text>
<text x="730" y="228" font-size="4.25" textLength="91.6" lengthAdjust="spacingAndGlyphs" fill="#222" stroke="#222" stroke-width="0.18">предвидени в Спецификацията на дограмата.</text>
<text x="726" y="234" font-size="4.25" textLength="134.6" lengthAdjust="spacingAndGlyphs" fill="#222" stroke="#222" stroke-width="0.18">11.За довършителни работи_значение таванни,настилки и облицовки</text>
<text x="730" y="238" font-size="4.25" textLength="111" lengthAdjust="spacingAndGlyphs" fill="#222" stroke="#222" stroke-width="0.18">да се гледат детайли или устни указания от архитекта.</text>
<text x="726" y="243.2" font-size="4.25" textLength="154.8" lengthAdjust="spacingAndGlyphs" fill="#222" stroke="#222" stroke-width="0.18">12.Всички облицовани Б.ТР. и хоризонтални проходи, да не изправят от PVC,</text>
<text x="730" y="247.5" font-size="4.25" textLength="67" lengthAdjust="spacingAndGlyphs" fill="#222" stroke="#222" stroke-width="0.18">а се облекат с тополен. вик.вата.</text>
<text x="726" y="255" font-size="4.25" textLength="105" lengthAdjust="spacingAndGlyphs" fill="#222" stroke="#222" stroke-width="0.18">13.Да се предвиди топлоизолация на армирате 10мм.</text>
<text x="726" y="260" font-size="4.25" textLength="137" lengthAdjust="spacingAndGlyphs" fill="#222" stroke="#222" stroke-width="0.18">14.Да се поверава на дограмата външното стъкло нискоемисионно!</text>
<text x="726" y="266.5" font-size="4.25" textLength="136" lengthAdjust="spacingAndGlyphs" fill="#222" stroke="#222" stroke-width="0.18">15.Балконските врати и витрини да се монтират в/у борд с вис.12см</text>
<text x="730" y="271.2" font-size="4.25" textLength="85" lengthAdjust="spacingAndGlyphs" fill="#222" stroke="#222" stroke-width="0.18">към съответната изолационна  подложка.</text>
<text x="726" y="276.5" font-size="4.25" textLength="97" lengthAdjust="spacingAndGlyphs" fill="#222" stroke="#222" stroke-width="0.18">16.В киненките тяхе ,да не се изпълзват заедно!</text>
<text x="726" y="282.7" font-size="4.25" textLength="146" lengthAdjust="spacingAndGlyphs" fill="#222" stroke="#222" stroke-width="0.18">17.Хидроза от изолацията в PVC тр.ф/бои идката в топлоизолацията и</text>
<text x="730" y="287.2" font-size="4.25" textLength="70" lengthAdjust="spacingAndGlyphs" fill="#222" stroke="#222" stroke-width="0.18">присъединена към канализацията.</text>
<text x="726" y="293.5" font-size="4.25" textLength="148" lengthAdjust="spacingAndGlyphs" fill="#222" stroke="#222" stroke-width="0.18">18.Всички врати на асансьора.Явяни н/у/ са с вис.207 см от от бет.плоча!</text>
<text x="726" y="298.5" font-size="4.25" textLength="138" lengthAdjust="spacingAndGlyphs" fill="#222" stroke="#222" stroke-width="0.18">19.Настилката в баня, кс и тераси е 6см- заради наклоните към П.С.</text>
<text x="726" y="304" font-size="4.25" textLength="127" lengthAdjust="spacingAndGlyphs" fill="#222" stroke="#222" stroke-width="0.18">20.Всички вертикали -канал и водосточни тръби да се скрият в</text>
<text x="730" y="309.5" font-size="4.25" textLength="94" lengthAdjust="spacingAndGlyphs" fill="#222" stroke="#222" stroke-width="0.18">в суфари от гипсокарт.шкаф в топлоизолация.</text>
<text x="727" y="317.2" font-size="4.25" textLength="123" lengthAdjust="spacingAndGlyphs" fill="#222" stroke="#222" stroke-width="0.18">21. Щпицовете за ел.кабели да се затворят с негорим ккшуф.</text>
<text x="726" y="323.5" font-size="4.25" textLength="154" lengthAdjust="spacingAndGlyphs" fill="#222" stroke="#222" stroke-width="0.18">22.Топл.изолация по външни тухл.стени и вусаци -изолацидран полистирол</text>
<text x="726" y="328.2" font-size="4.25" textLength="105" lengthAdjust="spacingAndGlyphs" fill="#222" stroke="#222" stroke-width="0.18">външни стоманобет.стени-екструдиран полистирол.</text>
<text x="727" y="334.8" font-size="4.25" textLength="99" lengthAdjust="spacingAndGlyphs" fill="#222" stroke="#222" stroke-width="0.18">23.Да се изпълнят изискванията на част ПБ.</text>
<text x="501" y="566.3" font-size="5" textLength="94" lengthAdjust="spacingAndGlyphs" fill="#222">РАЗПРЕДЕЛЕНИЕ НА ВТОРИ  ЕТАЖ</text>
<text x="501" y="572.8" font-size="3.6" textLength="39" lengthAdjust="spacingAndGlyphs" fill="#222">ЗП ЕТАЖ-230.39м2</text>
<text x="501" y="579.5" font-size="3.6" textLength="34" lengthAdjust="spacingAndGlyphs" fill="#222">ЗП ап.1- 54.80м2</text>
<text x="501" y="585.2" font-size="3.6" textLength="34" lengthAdjust="spacingAndGlyphs" fill="#222">ЗП ап.2- 53.00м2</text>
<text x="501" y="590.5" font-size="3.6" textLength="34" lengthAdjust="spacingAndGlyphs" fill="#222">ЗП ап.3- 50.60м2</text>
<text x="501" y="596.5" font-size="3.6" textLength="36" lengthAdjust="spacingAndGlyphs" fill="#222">ЗП ап.3а- 41.46м2</text>
<text x="501" y="604.5" font-size="3.3" textLength="88" lengthAdjust="spacingAndGlyphs" fill="#222">ЗП общи части+пл.обществ.пр./ 30.99м2</text>
<path d="M703.7 419.5 L703.7 439.8 L723.7 439.8 A20.2 20.2 0 0 0 703.7 419.5" fill="none" stroke="#111" stroke-width="1.18"/>
<circle cx="873" cy="515" r="16.3" fill="none" stroke="#7d7d7d" stroke-width="1.77"/>
<line x1="856" y1="516" x2="890" y2="513.6" stroke="#555" stroke-width="0.83"/>
<line x1="873.6" y1="498" x2="874.6" y2="532" stroke="#555" stroke-width="0.83"/>
<line x1="873.3" y1="515" x2="871.8" y2="499.2" stroke="#000" stroke-width="2.12"/>
<text x="745.7" y="539" font-size="4.2" textLength="36" lengthAdjust="spacingAndGlyphs" fill="#222" stroke="#222" stroke-width="0.15">СЪГЛАСУВАЛИ:</text>
<text x="745.7" y="548" font-size="4.2" textLength="81" lengthAdjust="spacingAndGlyphs" fill="#222" stroke="#222" stroke-width="0.15">ЧАСТ: К-ЦИИ ИНЖ.СТ. СТОЯНОВ</text>
<text x="745.7" y="557" font-size="4.2" textLength="68" lengthAdjust="spacingAndGlyphs" fill="#222" stroke="#222" stroke-width="0.15">ЧАСТ ЕЛ. ИНЖ.ВЛ. ПЕТКОВ</text>
<text x="745.7" y="566.2" font-size="4.2" textLength="62" lengthAdjust="spacingAndGlyphs" fill="#222" stroke="#222" stroke-width="0.15">ЧАСТ ВК ИНЖ.ЖЕЛИНСКА</text>
<text x="745.7" y="575.5" font-size="4.2" textLength="71" lengthAdjust="spacingAndGlyphs" fill="#222" stroke="#222" stroke-width="0.15">ЧАСТ. ОВК ИНЖ.СТ. РАЙКОВА</text>
<text x="745.7" y="584.5" font-size="4.2" textLength="57" lengthAdjust="spacingAndGlyphs" fill="#222" stroke="#222" stroke-width="0.15">ЧАСТ.ПБ  ИНЖ.НЕЙКОВ</text>
<path d="M827.5 533 L828 549 M820 548 L838 537 M822 551 L835 544 M817 552 L812 560 L816 557" fill="none" stroke="#111" stroke-width="1.3"/>
<path d="M811 565 C816 560 824 560 829 559 C826 566 817 569 811 568 Z" fill="#111" stroke="#111" stroke-width="1.65"/>
<path d="M819 572 L822 578 L824 570 L827 577 L831 569 C834 570 830 576 827 577" fill="none" stroke="#111" stroke-width="1.77"/>
<path d="M808 586 L822 580 L816 590 M820 578 L806 592" fill="none" stroke="#333" stroke-width="0.83"/>
<rect x="745" y="589" width="141.5" height="116" fill="none" stroke="#666" stroke-width="1.06"/>
<rect x="747.6" y="591.6" width="136.4" height="111" fill="none" stroke="#111" stroke-width="1.18"/>
<text x="750.5" y="596.5" font-size="2.9" textLength="38" lengthAdjust="spacingAndGlyphs" fill="#333">АРХИТЕКТУРНО БЮРО</text>
<text x="750.5" y="601.5" font-size="2.9" textLength="21" lengthAdjust="spacingAndGlyphs" fill="#333">АРХ.ПЕТКОВ</text>
<text x="813" y="604" font-size="14.5" font-weight="bold" textLength="69" lengthAdjust="spacingAndGlyphs" fill="#fff" stroke="#000" stroke-width="1.7" style="paint-order:stroke">АТИКА</text>
<line x1="749" y1="605.3" x2="884" y2="605.3" stroke="#000" stroke-width="1.53"/>
<text x="750.5" y="610" font-size="2.6" textLength="90" lengthAdjust="spacingAndGlyphs" fill="#222">ПЛОВДИВ УЛ. КОНСТАНТИН ВЕЛИЧКОВ 5   тел.032/63-74-32</text>
<text x="856" y="610" font-size="2.4" textLength="24" lengthAdjust="spacingAndGlyphs" fill="#444">арх.петков.бг</text>
<line x1="749" y1="611.3" x2="884" y2="611.3" stroke="#444" stroke-width="0.94"/>
<text x="750.3" y="620" font-size="4.3" textLength="126" lengthAdjust="spacingAndGlyphs" fill="#111" stroke="#111" stroke-width="0.15">ОБЕКТ: ЖИЛИЩНА СГРАДА В УПИ XVI-506,330  КВ.631</text>
<text x="750.3" y="627" font-size="4.3" textLength="112" lengthAdjust="spacingAndGlyphs" fill="#111" stroke="#111" stroke-width="0.15">ПО ПЛАНА НА  ПЕТА ГРАДСКА ЧАСТ ПЛОВДИВ</text>
<line x1="747.6" y1="644.7" x2="884" y2="644.7" stroke="#000" stroke-width="1.06"/>
<line x1="747.6" y1="650.6" x2="884" y2="650.6" stroke="#000" stroke-width="1.06"/>
<line x1="777.7" y1="656.7" x2="884" y2="656.7" stroke="#000" stroke-width="0.94"/>
<line x1="747.6" y1="662.4" x2="884" y2="662.4" stroke="#000" stroke-width="1.18"/>
<line x1="747.6" y1="697.8" x2="884" y2="697.8" stroke="#000" stroke-width="1.18"/>
<line x1="777.7" y1="650.6" x2="777.7" y2="662.4" stroke="#000" stroke-width="1.06"/>
<line x1="777.7" y1="697.8" x2="777.7" y2="702.6" stroke="#000" stroke-width="1.06"/>
<line x1="821.6" y1="650.6" x2="821.6" y2="662.4" stroke="#000" stroke-width="1.06"/>
<line x1="821.6" y1="697.8" x2="821.6" y2="702.6" stroke="#000" stroke-width="1.06"/>
<line x1="853.8" y1="650.6" x2="853.8" y2="702.6" stroke="#000" stroke-width="1.06"/>
<line x1="864" y1="650.6" x2="864" y2="702.6" stroke="#000" stroke-width="1.06"/>
<text x="750" y="649" font-size="3.4" textLength="95" lengthAdjust="spacingAndGlyphs" fill="#111">ЧАСТ:  РАЗПРЕДЕЛЕНИЕ НА ВТОРИ  ЕТАЖ М 1:50</text>
<text x="750" y="655.3" font-size="2.9" textLength="24" lengthAdjust="spacingAndGlyphs" fill="#333">ПРОЕКТАНТИ:</text>
<text x="781" y="655.3" font-size="3.3" font-weight="bold" textLength="32" lengthAdjust="spacingAndGlyphs" fill="#111">арх.Л.ПЕТКОВА</text>
<text x="855" y="655.3" font-size="2.7" font-weight="bold" textLength="8" lengthAdjust="spacingAndGlyphs" fill="#111">фаза</text>
<text x="868" y="655.3" font-size="3.2" fill="#333">ТП</text>
<text x="855" y="661.2" font-size="2.7" font-weight="bold" textLength="8" lengthAdjust="spacingAndGlyphs" fill="#111">част</text>
<text x="868" y="661.2" font-size="3.2" fill="#333">АРХ</text>
<path d="M826 652 L828 657 L830 652 L833 657 L836 651 L839 656 L843 652" fill="none" stroke="#444" stroke-width="0.71"/>
<text x="753" y="669" font-size="3.1" textLength="63" lengthAdjust="spacingAndGlyphs" fill="#222">Съгласен с проекта ВЪЗЛОЖИТЕЛ:</text>
<text x="753" y="673.8" font-size="3.1" textLength="24" lengthAdjust="spacingAndGlyphs" fill="#222">ДИКО ДИКОВ</text>
<line x1="778" y1="673.8" x2="815" y2="673.8" stroke="#888" stroke-width="0.47" stroke-dasharray="0.6 0.6"/>
<text x="855" y="696" font-size="2.7" font-weight="bold" textLength="8" lengthAdjust="spacingAndGlyphs" fill="#111">дата</text>
<text x="867" y="696" font-size="3.2" fill="#333">2015</text>
<text x="750" y="701.3" font-size="2.9" textLength="26" lengthAdjust="spacingAndGlyphs" fill="#333">РЪКОВОДИТЕЛ:</text>
<text x="781" y="701.3" font-size="3.3" font-weight="bold" textLength="32" lengthAdjust="spacingAndGlyphs" fill="#111">арх.Л.ПЕТКОВА</text>
<text x="855" y="701.3" font-size="2.7" font-weight="bold" textLength="8" lengthAdjust="spacingAndGlyphs" fill="#111">М/Ж</text>
<text x="867" y="701.3" font-size="3.2" fill="#333">1:1+</text>
<path d="M826 699 L828 703 L831 696 L834 703 L838 695 L841 702 L845 697 M845 700 L845 707" fill="none" stroke="#555" stroke-width="0.71"/>
</svg></body></html>
